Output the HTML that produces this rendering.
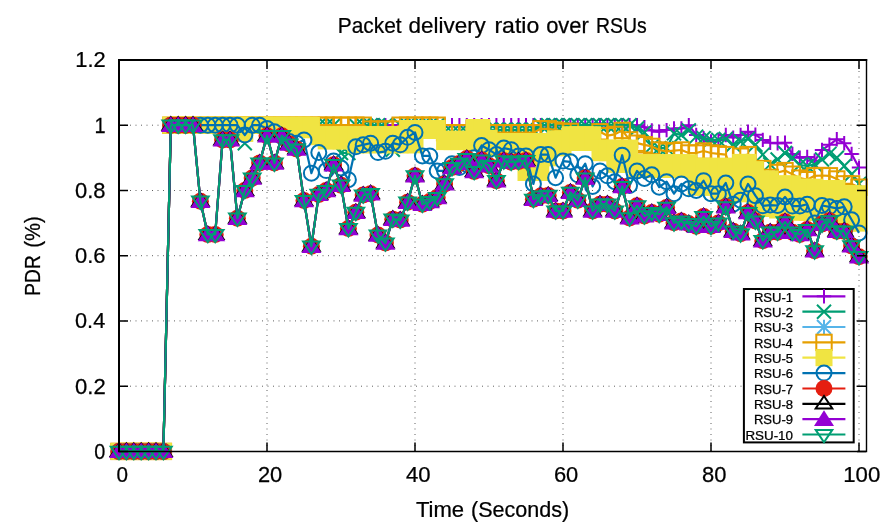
<!DOCTYPE html>
<html><head><meta charset="utf-8"><style>
html,body{margin:0;padding:0;background:#fff;}
svg{display:block;will-change:transform;}
text{font-family:"Liberation Sans",sans-serif;fill:#000;stroke:#000;stroke-width:0.25px;}
</style></head><body>
<svg width="892" height="530" viewBox="0 0 892 530">
<rect width="892" height="530" fill="#fff"/>
<path d="M267 60V451.4M415 60V451.4M563 60V451.4M711 60V451.4M859 60V451.4M119 386.2H866M119 320.9H866M119 255.7H866M119 190.5H866M119 125.2H866" stroke="#606060" stroke-width="1" stroke-dasharray="1 4.5" fill="none"/>
<polyline points="119,451.4 126.4,451.4 133.8,451.4 141.2,451.4 148.6,451.4 156,451.4 163.4,451.4 170.8,125.2 178.2,125.2 185.6,125.2 193,125.2 200.4,125.2 207.8,125.2 215.2,125.2 222.6,125.2 230,125.2 237.4,125.2 244.8,125.2 252.2,125.2 259.6,125.2 267,125.2 274.4,125.2 281.8,125.2 289.2,125.2 296.6,125.2 304,125.2 311.4,125.2 318.8,125.2 326.2,125.2 333.6,125.2 341,125.2 348.4,125.2 355.8,125.2 363.2,125.2 370.6,125.2 378,125.2 385.4,125.2 392.8,125.2 400.2,125.2 407.6,125.2 415,125.2 422.4,125.2 429.8,125.2 437.2,125.2 444.6,125.2 452,125.2 459.4,125.2 466.8,125.2 474.2,125.2 481.6,125.2 489,125.2 496.4,125.2 503.8,125.2 511.2,125.2 518.6,125.2 526,125.2 533.4,125.2 540.8,125.2 548.2,125.2 555.6,125.2 563,125.2 570.4,125.2 577.8,125.2 585.2,125.2 592.6,125.2 600,125.2 607.4,125.2 614.8,125.2 622.2,125.2 629.6,125.2 637,125.2 644.4,127.2 651.8,130.4 659.2,131.8 666.6,130.1 674,128.5 681.4,128.5 688.8,125.2 696.2,135 703.6,138.3 711,141.5 718.4,139.9 725.8,135 733.2,137.6 740.6,135 748,131.8 755.4,134.7 762.8,139.9 770.2,142.8 777.6,143.2 785,142.8 792.4,153.9 799.8,157.8 807.2,156.9 814.6,160.8 822,150 829.4,144.8 836.8,139.3 844.2,143.2 851.6,153.9 859,167.6" fill="none" stroke="#9400d3" stroke-width="2.2" stroke-linejoin="round"/>
<path d="M111.8 451.4h14.4M119 444.2v14.4" stroke="#9400d3" stroke-width="2" fill="none"/>
<path d="M119.2 451.4h14.4M126.4 444.2v14.4" stroke="#9400d3" stroke-width="2" fill="none"/>
<path d="M126.6 451.4h14.4M133.8 444.2v14.4" stroke="#9400d3" stroke-width="2" fill="none"/>
<path d="M134 451.4h14.4M141.2 444.2v14.4" stroke="#9400d3" stroke-width="2" fill="none"/>
<path d="M141.4 451.4h14.4M148.6 444.2v14.4" stroke="#9400d3" stroke-width="2" fill="none"/>
<path d="M148.8 451.4h14.4M156 444.2v14.4" stroke="#9400d3" stroke-width="2" fill="none"/>
<path d="M156.2 451.4h14.4M163.4 444.2v14.4" stroke="#9400d3" stroke-width="2" fill="none"/>
<path d="M163.6 125.2h14.4M170.8 118v14.4" stroke="#9400d3" stroke-width="2" fill="none"/>
<path d="M171 125.2h14.4M178.2 118v14.4" stroke="#9400d3" stroke-width="2" fill="none"/>
<path d="M178.4 125.2h14.4M185.6 118v14.4" stroke="#9400d3" stroke-width="2" fill="none"/>
<path d="M185.8 125.2h14.4M193 118v14.4" stroke="#9400d3" stroke-width="2" fill="none"/>
<path d="M193.2 125.2h14.4M200.4 118v14.4" stroke="#9400d3" stroke-width="2" fill="none"/>
<path d="M200.6 125.2h14.4M207.8 118v14.4" stroke="#9400d3" stroke-width="2" fill="none"/>
<path d="M208 125.2h14.4M215.2 118v14.4" stroke="#9400d3" stroke-width="2" fill="none"/>
<path d="M215.4 125.2h14.4M222.6 118v14.4" stroke="#9400d3" stroke-width="2" fill="none"/>
<path d="M222.8 125.2h14.4M230 118v14.4" stroke="#9400d3" stroke-width="2" fill="none"/>
<path d="M230.2 125.2h14.4M237.4 118v14.4" stroke="#9400d3" stroke-width="2" fill="none"/>
<path d="M237.6 125.2h14.4M244.8 118v14.4" stroke="#9400d3" stroke-width="2" fill="none"/>
<path d="M245 125.2h14.4M252.2 118v14.4" stroke="#9400d3" stroke-width="2" fill="none"/>
<path d="M252.4 125.2h14.4M259.6 118v14.4" stroke="#9400d3" stroke-width="2" fill="none"/>
<path d="M259.8 125.2h14.4M267 118v14.4" stroke="#9400d3" stroke-width="2" fill="none"/>
<path d="M267.2 125.2h14.4M274.4 118v14.4" stroke="#9400d3" stroke-width="2" fill="none"/>
<path d="M274.6 125.2h14.4M281.8 118v14.4" stroke="#9400d3" stroke-width="2" fill="none"/>
<path d="M282 125.2h14.4M289.2 118v14.4" stroke="#9400d3" stroke-width="2" fill="none"/>
<path d="M289.4 125.2h14.4M296.6 118v14.4" stroke="#9400d3" stroke-width="2" fill="none"/>
<path d="M296.8 125.2h14.4M304 118v14.4" stroke="#9400d3" stroke-width="2" fill="none"/>
<path d="M304.2 125.2h14.4M311.4 118v14.4" stroke="#9400d3" stroke-width="2" fill="none"/>
<path d="M311.6 125.2h14.4M318.8 118v14.4" stroke="#9400d3" stroke-width="2" fill="none"/>
<path d="M319 125.2h14.4M326.2 118v14.4" stroke="#9400d3" stroke-width="2" fill="none"/>
<path d="M326.4 125.2h14.4M333.6 118v14.4" stroke="#9400d3" stroke-width="2" fill="none"/>
<path d="M333.8 125.2h14.4M341 118v14.4" stroke="#9400d3" stroke-width="2" fill="none"/>
<path d="M341.2 125.2h14.4M348.4 118v14.4" stroke="#9400d3" stroke-width="2" fill="none"/>
<path d="M348.6 125.2h14.4M355.8 118v14.4" stroke="#9400d3" stroke-width="2" fill="none"/>
<path d="M356 125.2h14.4M363.2 118v14.4" stroke="#9400d3" stroke-width="2" fill="none"/>
<path d="M363.4 125.2h14.4M370.6 118v14.4" stroke="#9400d3" stroke-width="2" fill="none"/>
<path d="M370.8 125.2h14.4M378 118v14.4" stroke="#9400d3" stroke-width="2" fill="none"/>
<path d="M378.2 125.2h14.4M385.4 118v14.4" stroke="#9400d3" stroke-width="2" fill="none"/>
<path d="M385.6 125.2h14.4M392.8 118v14.4" stroke="#9400d3" stroke-width="2" fill="none"/>
<path d="M393 125.2h14.4M400.2 118v14.4" stroke="#9400d3" stroke-width="2" fill="none"/>
<path d="M400.4 125.2h14.4M407.6 118v14.4" stroke="#9400d3" stroke-width="2" fill="none"/>
<path d="M407.8 125.2h14.4M415 118v14.4" stroke="#9400d3" stroke-width="2" fill="none"/>
<path d="M415.2 125.2h14.4M422.4 118v14.4" stroke="#9400d3" stroke-width="2" fill="none"/>
<path d="M422.6 125.2h14.4M429.8 118v14.4" stroke="#9400d3" stroke-width="2" fill="none"/>
<path d="M430 125.2h14.4M437.2 118v14.4" stroke="#9400d3" stroke-width="2" fill="none"/>
<path d="M437.4 125.2h14.4M444.6 118v14.4" stroke="#9400d3" stroke-width="2" fill="none"/>
<path d="M444.8 125.2h14.4M452 118v14.4" stroke="#9400d3" stroke-width="2" fill="none"/>
<path d="M452.2 125.2h14.4M459.4 118v14.4" stroke="#9400d3" stroke-width="2" fill="none"/>
<path d="M459.6 125.2h14.4M466.8 118v14.4" stroke="#9400d3" stroke-width="2" fill="none"/>
<path d="M467 125.2h14.4M474.2 118v14.4" stroke="#9400d3" stroke-width="2" fill="none"/>
<path d="M474.4 125.2h14.4M481.6 118v14.4" stroke="#9400d3" stroke-width="2" fill="none"/>
<path d="M481.8 125.2h14.4M489 118v14.4" stroke="#9400d3" stroke-width="2" fill="none"/>
<path d="M489.2 125.2h14.4M496.4 118v14.4" stroke="#9400d3" stroke-width="2" fill="none"/>
<path d="M496.6 125.2h14.4M503.8 118v14.4" stroke="#9400d3" stroke-width="2" fill="none"/>
<path d="M504 125.2h14.4M511.2 118v14.4" stroke="#9400d3" stroke-width="2" fill="none"/>
<path d="M511.4 125.2h14.4M518.6 118v14.4" stroke="#9400d3" stroke-width="2" fill="none"/>
<path d="M518.8 125.2h14.4M526 118v14.4" stroke="#9400d3" stroke-width="2" fill="none"/>
<path d="M526.2 125.2h14.4M533.4 118v14.4" stroke="#9400d3" stroke-width="2" fill="none"/>
<path d="M533.6 125.2h14.4M540.8 118v14.4" stroke="#9400d3" stroke-width="2" fill="none"/>
<path d="M541 125.2h14.4M548.2 118v14.4" stroke="#9400d3" stroke-width="2" fill="none"/>
<path d="M548.4 125.2h14.4M555.6 118v14.4" stroke="#9400d3" stroke-width="2" fill="none"/>
<path d="M555.8 125.2h14.4M563 118v14.4" stroke="#9400d3" stroke-width="2" fill="none"/>
<path d="M563.2 125.2h14.4M570.4 118v14.4" stroke="#9400d3" stroke-width="2" fill="none"/>
<path d="M570.6 125.2h14.4M577.8 118v14.4" stroke="#9400d3" stroke-width="2" fill="none"/>
<path d="M578 125.2h14.4M585.2 118v14.4" stroke="#9400d3" stroke-width="2" fill="none"/>
<path d="M585.4 125.2h14.4M592.6 118v14.4" stroke="#9400d3" stroke-width="2" fill="none"/>
<path d="M592.8 125.2h14.4M600 118v14.4" stroke="#9400d3" stroke-width="2" fill="none"/>
<path d="M600.2 125.2h14.4M607.4 118v14.4" stroke="#9400d3" stroke-width="2" fill="none"/>
<path d="M607.6 125.2h14.4M614.8 118v14.4" stroke="#9400d3" stroke-width="2" fill="none"/>
<path d="M615 125.2h14.4M622.2 118v14.4" stroke="#9400d3" stroke-width="2" fill="none"/>
<path d="M622.4 125.2h14.4M629.6 118v14.4" stroke="#9400d3" stroke-width="2" fill="none"/>
<path d="M629.8 125.2h14.4M637 118v14.4" stroke="#9400d3" stroke-width="2" fill="none"/>
<path d="M637.2 127.2h14.4M644.4 120v14.4" stroke="#9400d3" stroke-width="2" fill="none"/>
<path d="M644.6 130.4h14.4M651.8 123.2v14.4" stroke="#9400d3" stroke-width="2" fill="none"/>
<path d="M652 131.8h14.4M659.2 124.6v14.4" stroke="#9400d3" stroke-width="2" fill="none"/>
<path d="M659.4 130.1h14.4M666.6 122.9v14.4" stroke="#9400d3" stroke-width="2" fill="none"/>
<path d="M666.8 128.5h14.4M674 121.3v14.4" stroke="#9400d3" stroke-width="2" fill="none"/>
<path d="M674.2 128.5h14.4M681.4 121.3v14.4" stroke="#9400d3" stroke-width="2" fill="none"/>
<path d="M681.6 125.2h14.4M688.8 118v14.4" stroke="#9400d3" stroke-width="2" fill="none"/>
<path d="M689 135h14.4M696.2 127.8v14.4" stroke="#9400d3" stroke-width="2" fill="none"/>
<path d="M696.4 138.3h14.4M703.6 131.1v14.4" stroke="#9400d3" stroke-width="2" fill="none"/>
<path d="M703.8 141.5h14.4M711 134.3v14.4" stroke="#9400d3" stroke-width="2" fill="none"/>
<path d="M711.2 139.9h14.4M718.4 132.7v14.4" stroke="#9400d3" stroke-width="2" fill="none"/>
<path d="M718.6 135h14.4M725.8 127.8v14.4" stroke="#9400d3" stroke-width="2" fill="none"/>
<path d="M726 137.6h14.4M733.2 130.4v14.4" stroke="#9400d3" stroke-width="2" fill="none"/>
<path d="M733.4 135h14.4M740.6 127.8v14.4" stroke="#9400d3" stroke-width="2" fill="none"/>
<path d="M740.8 131.8h14.4M748 124.6v14.4" stroke="#9400d3" stroke-width="2" fill="none"/>
<path d="M748.2 134.7h14.4M755.4 127.5v14.4" stroke="#9400d3" stroke-width="2" fill="none"/>
<path d="M755.6 139.9h14.4M762.8 132.7v14.4" stroke="#9400d3" stroke-width="2" fill="none"/>
<path d="M763 142.8h14.4M770.2 135.6v14.4" stroke="#9400d3" stroke-width="2" fill="none"/>
<path d="M770.4 143.2h14.4M777.6 136v14.4" stroke="#9400d3" stroke-width="2" fill="none"/>
<path d="M777.8 142.8h14.4M785 135.6v14.4" stroke="#9400d3" stroke-width="2" fill="none"/>
<path d="M785.2 153.9h14.4M792.4 146.7v14.4" stroke="#9400d3" stroke-width="2" fill="none"/>
<path d="M792.6 157.8h14.4M799.8 150.6v14.4" stroke="#9400d3" stroke-width="2" fill="none"/>
<path d="M800 156.9h14.4M807.2 149.7v14.4" stroke="#9400d3" stroke-width="2" fill="none"/>
<path d="M807.4 160.8h14.4M814.6 153.6v14.4" stroke="#9400d3" stroke-width="2" fill="none"/>
<path d="M814.8 150h14.4M822 142.8v14.4" stroke="#9400d3" stroke-width="2" fill="none"/>
<path d="M822.2 144.8h14.4M829.4 137.6v14.4" stroke="#9400d3" stroke-width="2" fill="none"/>
<path d="M829.6 139.3h14.4M836.8 132.1v14.4" stroke="#9400d3" stroke-width="2" fill="none"/>
<path d="M837 143.2h14.4M844.2 136v14.4" stroke="#9400d3" stroke-width="2" fill="none"/>
<path d="M844.4 153.9h14.4M851.6 146.7v14.4" stroke="#9400d3" stroke-width="2" fill="none"/>
<path d="M851.8 167.6h14.4M859 160.4v14.4" stroke="#9400d3" stroke-width="2" fill="none"/>
<polyline points="119,451.4 126.4,451.4 133.8,451.4 141.2,451.4 148.6,451.4 156,451.4 163.4,451.4 170.8,125.2 178.2,125.2 185.6,125.2 193,125.2 200.4,125.2 207.8,125.2 215.2,125.2 222.6,125.2 230,125.2 237.4,125.2 244.8,143.2 252.2,125.2 259.6,125.2 267,125.2 274.4,125.2 281.8,125.2 289.2,125.2 296.6,125.2 304,125.2 311.4,125.2 318.8,125.2 326.2,125.2 333.6,125.2 341,153 348.4,153 355.8,125.2 363.2,125.2 370.6,125.2 378,125.2 385.4,125.2 392.8,149.7 400.2,125.2 407.6,125.2 415,125.2 422.4,125.2 429.8,125.2 437.2,125.2 444.6,132.4 452,132.4 459.4,132.4 466.8,132.4 474.2,129.8 481.6,129.8 489,129.8 496.4,129.8 503.8,129.8 511.2,129.8 518.6,129.8 526,129.8 533.4,129.8 540.8,125.2 548.2,125.2 555.6,125.2 563,125.2 570.4,125.2 577.8,125.2 585.2,125.2 592.6,125.2 600,125.2 607.4,125.2 614.8,125.2 622.2,125.2 629.6,125.2 637,128.5 644.4,132.4 651.8,146.4 659.2,148.1 666.6,148.1 674,133.4 681.4,135 688.8,130.4 696.2,136.6 703.6,138.3 711,139.9 718.4,139.9 725.8,138.9 733.2,144.8 740.6,141.5 748,138.9 755.4,144.8 762.8,154.6 770.2,164.4 777.6,159.5 785,153 792.4,157.8 799.8,165 807.2,166 814.6,164.4 822,159.5 829.4,153.9 836.8,157.8 844.2,166 851.6,174.2 859,183.9" fill="none" stroke="#009e73" stroke-width="2.2" stroke-linejoin="round"/>
<path d="M112 444.4l14 14M126 444.4l-14 14" stroke="#009e73" stroke-width="2" fill="none"/>
<path d="M119.4 444.4l14 14M133.4 444.4l-14 14" stroke="#009e73" stroke-width="2" fill="none"/>
<path d="M126.8 444.4l14 14M140.8 444.4l-14 14" stroke="#009e73" stroke-width="2" fill="none"/>
<path d="M134.2 444.4l14 14M148.2 444.4l-14 14" stroke="#009e73" stroke-width="2" fill="none"/>
<path d="M141.6 444.4l14 14M155.6 444.4l-14 14" stroke="#009e73" stroke-width="2" fill="none"/>
<path d="M149 444.4l14 14M163 444.4l-14 14" stroke="#009e73" stroke-width="2" fill="none"/>
<path d="M156.4 444.4l14 14M170.4 444.4l-14 14" stroke="#009e73" stroke-width="2" fill="none"/>
<path d="M163.8 118.2l14 14M177.8 118.2l-14 14" stroke="#009e73" stroke-width="2" fill="none"/>
<path d="M171.2 118.2l14 14M185.2 118.2l-14 14" stroke="#009e73" stroke-width="2" fill="none"/>
<path d="M178.6 118.2l14 14M192.6 118.2l-14 14" stroke="#009e73" stroke-width="2" fill="none"/>
<path d="M186 118.2l14 14M200 118.2l-14 14" stroke="#009e73" stroke-width="2" fill="none"/>
<path d="M193.4 118.2l14 14M207.4 118.2l-14 14" stroke="#009e73" stroke-width="2" fill="none"/>
<path d="M200.8 118.2l14 14M214.8 118.2l-14 14" stroke="#009e73" stroke-width="2" fill="none"/>
<path d="M208.2 118.2l14 14M222.2 118.2l-14 14" stroke="#009e73" stroke-width="2" fill="none"/>
<path d="M215.6 118.2l14 14M229.6 118.2l-14 14" stroke="#009e73" stroke-width="2" fill="none"/>
<path d="M223 118.2l14 14M237 118.2l-14 14" stroke="#009e73" stroke-width="2" fill="none"/>
<path d="M230.4 118.2l14 14M244.4 118.2l-14 14" stroke="#009e73" stroke-width="2" fill="none"/>
<path d="M237.8 136.2l14 14M251.8 136.2l-14 14" stroke="#009e73" stroke-width="2" fill="none"/>
<path d="M245.2 118.2l14 14M259.2 118.2l-14 14" stroke="#009e73" stroke-width="2" fill="none"/>
<path d="M252.6 118.2l14 14M266.6 118.2l-14 14" stroke="#009e73" stroke-width="2" fill="none"/>
<path d="M260 118.2l14 14M274 118.2l-14 14" stroke="#009e73" stroke-width="2" fill="none"/>
<path d="M267.4 118.2l14 14M281.4 118.2l-14 14" stroke="#009e73" stroke-width="2" fill="none"/>
<path d="M274.8 118.2l14 14M288.8 118.2l-14 14" stroke="#009e73" stroke-width="2" fill="none"/>
<path d="M282.2 118.2l14 14M296.2 118.2l-14 14" stroke="#009e73" stroke-width="2" fill="none"/>
<path d="M289.6 118.2l14 14M303.6 118.2l-14 14" stroke="#009e73" stroke-width="2" fill="none"/>
<path d="M297 118.2l14 14M311 118.2l-14 14" stroke="#009e73" stroke-width="2" fill="none"/>
<path d="M304.4 118.2l14 14M318.4 118.2l-14 14" stroke="#009e73" stroke-width="2" fill="none"/>
<path d="M311.8 118.2l14 14M325.8 118.2l-14 14" stroke="#009e73" stroke-width="2" fill="none"/>
<path d="M319.2 118.2l14 14M333.2 118.2l-14 14" stroke="#009e73" stroke-width="2" fill="none"/>
<path d="M326.6 118.2l14 14M340.6 118.2l-14 14" stroke="#009e73" stroke-width="2" fill="none"/>
<path d="M334 146l14 14M348 146l-14 14" stroke="#009e73" stroke-width="2" fill="none"/>
<path d="M341.4 146l14 14M355.4 146l-14 14" stroke="#009e73" stroke-width="2" fill="none"/>
<path d="M348.8 118.2l14 14M362.8 118.2l-14 14" stroke="#009e73" stroke-width="2" fill="none"/>
<path d="M356.2 118.2l14 14M370.2 118.2l-14 14" stroke="#009e73" stroke-width="2" fill="none"/>
<path d="M363.6 118.2l14 14M377.6 118.2l-14 14" stroke="#009e73" stroke-width="2" fill="none"/>
<path d="M371 118.2l14 14M385 118.2l-14 14" stroke="#009e73" stroke-width="2" fill="none"/>
<path d="M378.4 118.2l14 14M392.4 118.2l-14 14" stroke="#009e73" stroke-width="2" fill="none"/>
<path d="M385.8 142.7l14 14M399.8 142.7l-14 14" stroke="#009e73" stroke-width="2" fill="none"/>
<path d="M393.2 118.2l14 14M407.2 118.2l-14 14" stroke="#009e73" stroke-width="2" fill="none"/>
<path d="M400.6 118.2l14 14M414.6 118.2l-14 14" stroke="#009e73" stroke-width="2" fill="none"/>
<path d="M408 118.2l14 14M422 118.2l-14 14" stroke="#009e73" stroke-width="2" fill="none"/>
<path d="M415.4 118.2l14 14M429.4 118.2l-14 14" stroke="#009e73" stroke-width="2" fill="none"/>
<path d="M422.8 118.2l14 14M436.8 118.2l-14 14" stroke="#009e73" stroke-width="2" fill="none"/>
<path d="M430.2 118.2l14 14M444.2 118.2l-14 14" stroke="#009e73" stroke-width="2" fill="none"/>
<path d="M437.6 125.4l14 14M451.6 125.4l-14 14" stroke="#009e73" stroke-width="2" fill="none"/>
<path d="M445 125.4l14 14M459 125.4l-14 14" stroke="#009e73" stroke-width="2" fill="none"/>
<path d="M452.4 125.4l14 14M466.4 125.4l-14 14" stroke="#009e73" stroke-width="2" fill="none"/>
<path d="M459.8 125.4l14 14M473.8 125.4l-14 14" stroke="#009e73" stroke-width="2" fill="none"/>
<path d="M467.2 122.8l14 14M481.2 122.8l-14 14" stroke="#009e73" stroke-width="2" fill="none"/>
<path d="M474.6 122.8l14 14M488.6 122.8l-14 14" stroke="#009e73" stroke-width="2" fill="none"/>
<path d="M482 122.8l14 14M496 122.8l-14 14" stroke="#009e73" stroke-width="2" fill="none"/>
<path d="M489.4 122.8l14 14M503.4 122.8l-14 14" stroke="#009e73" stroke-width="2" fill="none"/>
<path d="M496.8 122.8l14 14M510.8 122.8l-14 14" stroke="#009e73" stroke-width="2" fill="none"/>
<path d="M504.2 122.8l14 14M518.2 122.8l-14 14" stroke="#009e73" stroke-width="2" fill="none"/>
<path d="M511.6 122.8l14 14M525.6 122.8l-14 14" stroke="#009e73" stroke-width="2" fill="none"/>
<path d="M519 122.8l14 14M533 122.8l-14 14" stroke="#009e73" stroke-width="2" fill="none"/>
<path d="M526.4 122.8l14 14M540.4 122.8l-14 14" stroke="#009e73" stroke-width="2" fill="none"/>
<path d="M533.8 118.2l14 14M547.8 118.2l-14 14" stroke="#009e73" stroke-width="2" fill="none"/>
<path d="M541.2 118.2l14 14M555.2 118.2l-14 14" stroke="#009e73" stroke-width="2" fill="none"/>
<path d="M548.6 118.2l14 14M562.6 118.2l-14 14" stroke="#009e73" stroke-width="2" fill="none"/>
<path d="M556 118.2l14 14M570 118.2l-14 14" stroke="#009e73" stroke-width="2" fill="none"/>
<path d="M563.4 118.2l14 14M577.4 118.2l-14 14" stroke="#009e73" stroke-width="2" fill="none"/>
<path d="M570.8 118.2l14 14M584.8 118.2l-14 14" stroke="#009e73" stroke-width="2" fill="none"/>
<path d="M578.2 118.2l14 14M592.2 118.2l-14 14" stroke="#009e73" stroke-width="2" fill="none"/>
<path d="M585.6 118.2l14 14M599.6 118.2l-14 14" stroke="#009e73" stroke-width="2" fill="none"/>
<path d="M593 118.2l14 14M607 118.2l-14 14" stroke="#009e73" stroke-width="2" fill="none"/>
<path d="M600.4 118.2l14 14M614.4 118.2l-14 14" stroke="#009e73" stroke-width="2" fill="none"/>
<path d="M607.8 118.2l14 14M621.8 118.2l-14 14" stroke="#009e73" stroke-width="2" fill="none"/>
<path d="M615.2 118.2l14 14M629.2 118.2l-14 14" stroke="#009e73" stroke-width="2" fill="none"/>
<path d="M622.6 118.2l14 14M636.6 118.2l-14 14" stroke="#009e73" stroke-width="2" fill="none"/>
<path d="M630 121.5l14 14M644 121.5l-14 14" stroke="#009e73" stroke-width="2" fill="none"/>
<path d="M637.4 125.4l14 14M651.4 125.4l-14 14" stroke="#009e73" stroke-width="2" fill="none"/>
<path d="M644.8 139.4l14 14M658.8 139.4l-14 14" stroke="#009e73" stroke-width="2" fill="none"/>
<path d="M652.2 141.1l14 14M666.2 141.1l-14 14" stroke="#009e73" stroke-width="2" fill="none"/>
<path d="M659.6 141.1l14 14M673.6 141.1l-14 14" stroke="#009e73" stroke-width="2" fill="none"/>
<path d="M667 126.4l14 14M681 126.4l-14 14" stroke="#009e73" stroke-width="2" fill="none"/>
<path d="M674.4 128l14 14M688.4 128l-14 14" stroke="#009e73" stroke-width="2" fill="none"/>
<path d="M681.8 123.4l14 14M695.8 123.4l-14 14" stroke="#009e73" stroke-width="2" fill="none"/>
<path d="M689.2 129.6l14 14M703.2 129.6l-14 14" stroke="#009e73" stroke-width="2" fill="none"/>
<path d="M696.6 131.3l14 14M710.6 131.3l-14 14" stroke="#009e73" stroke-width="2" fill="none"/>
<path d="M704 132.9l14 14M718 132.9l-14 14" stroke="#009e73" stroke-width="2" fill="none"/>
<path d="M711.4 132.9l14 14M725.4 132.9l-14 14" stroke="#009e73" stroke-width="2" fill="none"/>
<path d="M718.8 131.9l14 14M732.8 131.9l-14 14" stroke="#009e73" stroke-width="2" fill="none"/>
<path d="M726.2 137.8l14 14M740.2 137.8l-14 14" stroke="#009e73" stroke-width="2" fill="none"/>
<path d="M733.6 134.5l14 14M747.6 134.5l-14 14" stroke="#009e73" stroke-width="2" fill="none"/>
<path d="M741 131.9l14 14M755 131.9l-14 14" stroke="#009e73" stroke-width="2" fill="none"/>
<path d="M748.4 137.8l14 14M762.4 137.8l-14 14" stroke="#009e73" stroke-width="2" fill="none"/>
<path d="M755.8 147.6l14 14M769.8 147.6l-14 14" stroke="#009e73" stroke-width="2" fill="none"/>
<path d="M763.2 157.4l14 14M777.2 157.4l-14 14" stroke="#009e73" stroke-width="2" fill="none"/>
<path d="M770.6 152.5l14 14M784.6 152.5l-14 14" stroke="#009e73" stroke-width="2" fill="none"/>
<path d="M778 146l14 14M792 146l-14 14" stroke="#009e73" stroke-width="2" fill="none"/>
<path d="M785.4 150.8l14 14M799.4 150.8l-14 14" stroke="#009e73" stroke-width="2" fill="none"/>
<path d="M792.8 158l14 14M806.8 158l-14 14" stroke="#009e73" stroke-width="2" fill="none"/>
<path d="M800.2 159l14 14M814.2 159l-14 14" stroke="#009e73" stroke-width="2" fill="none"/>
<path d="M807.6 157.4l14 14M821.6 157.4l-14 14" stroke="#009e73" stroke-width="2" fill="none"/>
<path d="M815 152.5l14 14M829 152.5l-14 14" stroke="#009e73" stroke-width="2" fill="none"/>
<path d="M822.4 146.9l14 14M836.4 146.9l-14 14" stroke="#009e73" stroke-width="2" fill="none"/>
<path d="M829.8 150.8l14 14M843.8 150.8l-14 14" stroke="#009e73" stroke-width="2" fill="none"/>
<path d="M837.2 159l14 14M851.2 159l-14 14" stroke="#009e73" stroke-width="2" fill="none"/>
<path d="M844.6 167.2l14 14M858.6 167.2l-14 14" stroke="#009e73" stroke-width="2" fill="none"/>
<path d="M852 176.9l14 14M866 176.9l-14 14" stroke="#009e73" stroke-width="2" fill="none"/>
<polyline points="119,451.4 126.4,451.4 133.8,451.4 141.2,451.4 148.6,451.4 156,451.4 163.4,451.4 170.8,125.2 178.2,125.2 185.6,125.2 193,125.2 200.4,125.2 207.8,125.2 215.2,125.2 222.6,125.2 230,125.2 237.4,125.2 244.8,129.3 252.2,125.2 259.6,125.2 267,125.2 274.4,125.2 281.8,125.2 289.2,125.2 296.6,126.9 304,126.9 311.4,127.5 318.8,135.7 326.2,137.8 333.6,137.8 341,137.8 348.4,137.8 355.8,139.7 363.2,139.7 370.6,139.7 378,139.7 385.4,139.7 392.8,139.7 400.2,139.7 407.6,136.6 415,136.6 422.4,129.5 429.8,129.5 437.2,129.5 444.6,140.4 452,140.4 459.4,140.4 466.8,140.4 474.2,135 481.6,135 489,142.4 496.4,144.6 503.8,144.6 511.2,144.6 518.6,144.6 526,157 533.4,157 540.8,157 548.2,149.7 555.6,143.3 563,143.3 570.4,138.6 577.8,138.6 585.2,138.6 592.6,138.6 600,150.3 607.4,150.3 614.8,156.2 622.2,156.2 629.6,156.2 637,166.2 644.4,166.2 651.8,166.2 659.2,166.2 666.6,166.2 674,166.2 681.4,166.2 688.8,166.2 696.2,176.8 703.6,176.8 711,176.8 718.4,179.2 725.8,179.2 733.2,179.2 740.6,178.1 748,178.1 755.4,184.9 762.8,193.7 770.2,193.7 777.6,197 785,197 792.4,197 799.8,199.8 807.2,199.8 814.6,199.8 822,202.5 829.4,202.5 836.8,202.5 844.2,208.4 851.6,208.4 859,208.4" fill="none" stroke="#56b4e9" stroke-width="2.2" stroke-linejoin="round"/>
<path d="M111.8 451.4h14.4M119 444.2v14.4M112 444.4l14 14M126 444.4l-14 14" stroke="#56b4e9" stroke-width="2" fill="none"/>
<path d="M119.2 451.4h14.4M126.4 444.2v14.4M119.4 444.4l14 14M133.4 444.4l-14 14" stroke="#56b4e9" stroke-width="2" fill="none"/>
<path d="M126.6 451.4h14.4M133.8 444.2v14.4M126.8 444.4l14 14M140.8 444.4l-14 14" stroke="#56b4e9" stroke-width="2" fill="none"/>
<path d="M134 451.4h14.4M141.2 444.2v14.4M134.2 444.4l14 14M148.2 444.4l-14 14" stroke="#56b4e9" stroke-width="2" fill="none"/>
<path d="M141.4 451.4h14.4M148.6 444.2v14.4M141.6 444.4l14 14M155.6 444.4l-14 14" stroke="#56b4e9" stroke-width="2" fill="none"/>
<path d="M148.8 451.4h14.4M156 444.2v14.4M149 444.4l14 14M163 444.4l-14 14" stroke="#56b4e9" stroke-width="2" fill="none"/>
<path d="M156.2 451.4h14.4M163.4 444.2v14.4M156.4 444.4l14 14M170.4 444.4l-14 14" stroke="#56b4e9" stroke-width="2" fill="none"/>
<path d="M163.6 125.2h14.4M170.8 118v14.4M163.8 118.2l14 14M177.8 118.2l-14 14" stroke="#56b4e9" stroke-width="2" fill="none"/>
<path d="M171 125.2h14.4M178.2 118v14.4M171.2 118.2l14 14M185.2 118.2l-14 14" stroke="#56b4e9" stroke-width="2" fill="none"/>
<path d="M178.4 125.2h14.4M185.6 118v14.4M178.6 118.2l14 14M192.6 118.2l-14 14" stroke="#56b4e9" stroke-width="2" fill="none"/>
<path d="M185.8 125.2h14.4M193 118v14.4M186 118.2l14 14M200 118.2l-14 14" stroke="#56b4e9" stroke-width="2" fill="none"/>
<path d="M193.2 125.2h14.4M200.4 118v14.4M193.4 118.2l14 14M207.4 118.2l-14 14" stroke="#56b4e9" stroke-width="2" fill="none"/>
<path d="M200.6 125.2h14.4M207.8 118v14.4M200.8 118.2l14 14M214.8 118.2l-14 14" stroke="#56b4e9" stroke-width="2" fill="none"/>
<path d="M208 125.2h14.4M215.2 118v14.4M208.2 118.2l14 14M222.2 118.2l-14 14" stroke="#56b4e9" stroke-width="2" fill="none"/>
<path d="M215.4 125.2h14.4M222.6 118v14.4M215.6 118.2l14 14M229.6 118.2l-14 14" stroke="#56b4e9" stroke-width="2" fill="none"/>
<path d="M222.8 125.2h14.4M230 118v14.4M223 118.2l14 14M237 118.2l-14 14" stroke="#56b4e9" stroke-width="2" fill="none"/>
<path d="M230.2 125.2h14.4M237.4 118v14.4M230.4 118.2l14 14M244.4 118.2l-14 14" stroke="#56b4e9" stroke-width="2" fill="none"/>
<path d="M237.6 129.3h14.4M244.8 122.1v14.4M237.8 122.3l14 14M251.8 122.3l-14 14" stroke="#56b4e9" stroke-width="2" fill="none"/>
<path d="M245 125.2h14.4M252.2 118v14.4M245.2 118.2l14 14M259.2 118.2l-14 14" stroke="#56b4e9" stroke-width="2" fill="none"/>
<path d="M252.4 125.2h14.4M259.6 118v14.4M252.6 118.2l14 14M266.6 118.2l-14 14" stroke="#56b4e9" stroke-width="2" fill="none"/>
<path d="M259.8 125.2h14.4M267 118v14.4M260 118.2l14 14M274 118.2l-14 14" stroke="#56b4e9" stroke-width="2" fill="none"/>
<path d="M267.2 125.2h14.4M274.4 118v14.4M267.4 118.2l14 14M281.4 118.2l-14 14" stroke="#56b4e9" stroke-width="2" fill="none"/>
<path d="M274.6 125.2h14.4M281.8 118v14.4M274.8 118.2l14 14M288.8 118.2l-14 14" stroke="#56b4e9" stroke-width="2" fill="none"/>
<path d="M282 125.2h14.4M289.2 118v14.4M282.2 118.2l14 14M296.2 118.2l-14 14" stroke="#56b4e9" stroke-width="2" fill="none"/>
<path d="M289.4 126.9h14.4M296.6 119.7v14.4M289.6 119.9l14 14M303.6 119.9l-14 14" stroke="#56b4e9" stroke-width="2" fill="none"/>
<path d="M296.8 126.9h14.4M304 119.7v14.4M297 119.9l14 14M311 119.9l-14 14" stroke="#56b4e9" stroke-width="2" fill="none"/>
<path d="M304.2 127.5h14.4M311.4 120.3v14.4M304.4 120.5l14 14M318.4 120.5l-14 14" stroke="#56b4e9" stroke-width="2" fill="none"/>
<path d="M311.6 135.7h14.4M318.8 128.5v14.4M311.8 128.7l14 14M325.8 128.7l-14 14" stroke="#56b4e9" stroke-width="2" fill="none"/>
<path d="M319 137.8h14.4M326.2 130.6v14.4M319.2 130.8l14 14M333.2 130.8l-14 14" stroke="#56b4e9" stroke-width="2" fill="none"/>
<path d="M326.4 137.8h14.4M333.6 130.6v14.4M326.6 130.8l14 14M340.6 130.8l-14 14" stroke="#56b4e9" stroke-width="2" fill="none"/>
<path d="M333.8 137.8h14.4M341 130.6v14.4M334 130.8l14 14M348 130.8l-14 14" stroke="#56b4e9" stroke-width="2" fill="none"/>
<path d="M341.2 137.8h14.4M348.4 130.6v14.4M341.4 130.8l14 14M355.4 130.8l-14 14" stroke="#56b4e9" stroke-width="2" fill="none"/>
<path d="M348.6 139.7h14.4M355.8 132.5v14.4M348.8 132.7l14 14M362.8 132.7l-14 14" stroke="#56b4e9" stroke-width="2" fill="none"/>
<path d="M356 139.7h14.4M363.2 132.5v14.4M356.2 132.7l14 14M370.2 132.7l-14 14" stroke="#56b4e9" stroke-width="2" fill="none"/>
<path d="M363.4 139.7h14.4M370.6 132.5v14.4M363.6 132.7l14 14M377.6 132.7l-14 14" stroke="#56b4e9" stroke-width="2" fill="none"/>
<path d="M370.8 139.7h14.4M378 132.5v14.4M371 132.7l14 14M385 132.7l-14 14" stroke="#56b4e9" stroke-width="2" fill="none"/>
<path d="M378.2 139.7h14.4M385.4 132.5v14.4M378.4 132.7l14 14M392.4 132.7l-14 14" stroke="#56b4e9" stroke-width="2" fill="none"/>
<path d="M385.6 139.7h14.4M392.8 132.5v14.4M385.8 132.7l14 14M399.8 132.7l-14 14" stroke="#56b4e9" stroke-width="2" fill="none"/>
<path d="M393 139.7h14.4M400.2 132.5v14.4M393.2 132.7l14 14M407.2 132.7l-14 14" stroke="#56b4e9" stroke-width="2" fill="none"/>
<path d="M400.4 136.6h14.4M407.6 129.4v14.4M400.6 129.6l14 14M414.6 129.6l-14 14" stroke="#56b4e9" stroke-width="2" fill="none"/>
<path d="M407.8 136.6h14.4M415 129.4v14.4M408 129.6l14 14M422 129.6l-14 14" stroke="#56b4e9" stroke-width="2" fill="none"/>
<path d="M415.2 129.5h14.4M422.4 122.3v14.4M415.4 122.5l14 14M429.4 122.5l-14 14" stroke="#56b4e9" stroke-width="2" fill="none"/>
<path d="M422.6 129.5h14.4M429.8 122.3v14.4M422.8 122.5l14 14M436.8 122.5l-14 14" stroke="#56b4e9" stroke-width="2" fill="none"/>
<path d="M430 129.5h14.4M437.2 122.3v14.4M430.2 122.5l14 14M444.2 122.5l-14 14" stroke="#56b4e9" stroke-width="2" fill="none"/>
<path d="M437.4 140.4h14.4M444.6 133.2v14.4M437.6 133.4l14 14M451.6 133.4l-14 14" stroke="#56b4e9" stroke-width="2" fill="none"/>
<path d="M444.8 140.4h14.4M452 133.2v14.4M445 133.4l14 14M459 133.4l-14 14" stroke="#56b4e9" stroke-width="2" fill="none"/>
<path d="M452.2 140.4h14.4M459.4 133.2v14.4M452.4 133.4l14 14M466.4 133.4l-14 14" stroke="#56b4e9" stroke-width="2" fill="none"/>
<path d="M459.6 140.4h14.4M466.8 133.2v14.4M459.8 133.4l14 14M473.8 133.4l-14 14" stroke="#56b4e9" stroke-width="2" fill="none"/>
<path d="M467 135h14.4M474.2 127.8v14.4M467.2 128l14 14M481.2 128l-14 14" stroke="#56b4e9" stroke-width="2" fill="none"/>
<path d="M474.4 135h14.4M481.6 127.8v14.4M474.6 128l14 14M488.6 128l-14 14" stroke="#56b4e9" stroke-width="2" fill="none"/>
<path d="M481.8 142.4h14.4M489 135.2v14.4M482 135.4l14 14M496 135.4l-14 14" stroke="#56b4e9" stroke-width="2" fill="none"/>
<path d="M489.2 144.6h14.4M496.4 137.4v14.4M489.4 137.6l14 14M503.4 137.6l-14 14" stroke="#56b4e9" stroke-width="2" fill="none"/>
<path d="M496.6 144.6h14.4M503.8 137.4v14.4M496.8 137.6l14 14M510.8 137.6l-14 14" stroke="#56b4e9" stroke-width="2" fill="none"/>
<path d="M504 144.6h14.4M511.2 137.4v14.4M504.2 137.6l14 14M518.2 137.6l-14 14" stroke="#56b4e9" stroke-width="2" fill="none"/>
<path d="M511.4 144.6h14.4M518.6 137.4v14.4M511.6 137.6l14 14M525.6 137.6l-14 14" stroke="#56b4e9" stroke-width="2" fill="none"/>
<path d="M518.8 157h14.4M526 149.8v14.4M519 150l14 14M533 150l-14 14" stroke="#56b4e9" stroke-width="2" fill="none"/>
<path d="M526.2 157h14.4M533.4 149.8v14.4M526.4 150l14 14M540.4 150l-14 14" stroke="#56b4e9" stroke-width="2" fill="none"/>
<path d="M533.6 157h14.4M540.8 149.8v14.4M533.8 150l14 14M547.8 150l-14 14" stroke="#56b4e9" stroke-width="2" fill="none"/>
<path d="M541 149.7h14.4M548.2 142.5v14.4M541.2 142.7l14 14M555.2 142.7l-14 14" stroke="#56b4e9" stroke-width="2" fill="none"/>
<path d="M548.4 143.3h14.4M555.6 136.1v14.4M548.6 136.3l14 14M562.6 136.3l-14 14" stroke="#56b4e9" stroke-width="2" fill="none"/>
<path d="M555.8 143.3h14.4M563 136.1v14.4M556 136.3l14 14M570 136.3l-14 14" stroke="#56b4e9" stroke-width="2" fill="none"/>
<path d="M563.2 138.6h14.4M570.4 131.4v14.4M563.4 131.6l14 14M577.4 131.6l-14 14" stroke="#56b4e9" stroke-width="2" fill="none"/>
<path d="M570.6 138.6h14.4M577.8 131.4v14.4M570.8 131.6l14 14M584.8 131.6l-14 14" stroke="#56b4e9" stroke-width="2" fill="none"/>
<path d="M578 138.6h14.4M585.2 131.4v14.4M578.2 131.6l14 14M592.2 131.6l-14 14" stroke="#56b4e9" stroke-width="2" fill="none"/>
<path d="M585.4 138.6h14.4M592.6 131.4v14.4M585.6 131.6l14 14M599.6 131.6l-14 14" stroke="#56b4e9" stroke-width="2" fill="none"/>
<path d="M592.8 150.3h14.4M600 143.1v14.4M593 143.3l14 14M607 143.3l-14 14" stroke="#56b4e9" stroke-width="2" fill="none"/>
<path d="M600.2 150.3h14.4M607.4 143.1v14.4M600.4 143.3l14 14M614.4 143.3l-14 14" stroke="#56b4e9" stroke-width="2" fill="none"/>
<path d="M607.6 156.2h14.4M614.8 149v14.4M607.8 149.2l14 14M621.8 149.2l-14 14" stroke="#56b4e9" stroke-width="2" fill="none"/>
<path d="M615 156.2h14.4M622.2 149v14.4M615.2 149.2l14 14M629.2 149.2l-14 14" stroke="#56b4e9" stroke-width="2" fill="none"/>
<path d="M622.4 156.2h14.4M629.6 149v14.4M622.6 149.2l14 14M636.6 149.2l-14 14" stroke="#56b4e9" stroke-width="2" fill="none"/>
<path d="M629.8 166.2h14.4M637 159v14.4M630 159.2l14 14M644 159.2l-14 14" stroke="#56b4e9" stroke-width="2" fill="none"/>
<path d="M637.2 166.2h14.4M644.4 159v14.4M637.4 159.2l14 14M651.4 159.2l-14 14" stroke="#56b4e9" stroke-width="2" fill="none"/>
<path d="M644.6 166.2h14.4M651.8 159v14.4M644.8 159.2l14 14M658.8 159.2l-14 14" stroke="#56b4e9" stroke-width="2" fill="none"/>
<path d="M652 166.2h14.4M659.2 159v14.4M652.2 159.2l14 14M666.2 159.2l-14 14" stroke="#56b4e9" stroke-width="2" fill="none"/>
<path d="M659.4 166.2h14.4M666.6 159v14.4M659.6 159.2l14 14M673.6 159.2l-14 14" stroke="#56b4e9" stroke-width="2" fill="none"/>
<path d="M666.8 166.2h14.4M674 159v14.4M667 159.2l14 14M681 159.2l-14 14" stroke="#56b4e9" stroke-width="2" fill="none"/>
<path d="M674.2 166.2h14.4M681.4 159v14.4M674.4 159.2l14 14M688.4 159.2l-14 14" stroke="#56b4e9" stroke-width="2" fill="none"/>
<path d="M681.6 166.2h14.4M688.8 159v14.4M681.8 159.2l14 14M695.8 159.2l-14 14" stroke="#56b4e9" stroke-width="2" fill="none"/>
<path d="M689 176.8h14.4M696.2 169.6v14.4M689.2 169.8l14 14M703.2 169.8l-14 14" stroke="#56b4e9" stroke-width="2" fill="none"/>
<path d="M696.4 176.8h14.4M703.6 169.6v14.4M696.6 169.8l14 14M710.6 169.8l-14 14" stroke="#56b4e9" stroke-width="2" fill="none"/>
<path d="M703.8 176.8h14.4M711 169.6v14.4M704 169.8l14 14M718 169.8l-14 14" stroke="#56b4e9" stroke-width="2" fill="none"/>
<path d="M711.2 179.2h14.4M718.4 172v14.4M711.4 172.2l14 14M725.4 172.2l-14 14" stroke="#56b4e9" stroke-width="2" fill="none"/>
<path d="M718.6 179.2h14.4M725.8 172v14.4M718.8 172.2l14 14M732.8 172.2l-14 14" stroke="#56b4e9" stroke-width="2" fill="none"/>
<path d="M726 179.2h14.4M733.2 172v14.4M726.2 172.2l14 14M740.2 172.2l-14 14" stroke="#56b4e9" stroke-width="2" fill="none"/>
<path d="M733.4 178.1h14.4M740.6 170.9v14.4M733.6 171.1l14 14M747.6 171.1l-14 14" stroke="#56b4e9" stroke-width="2" fill="none"/>
<path d="M740.8 178.1h14.4M748 170.9v14.4M741 171.1l14 14M755 171.1l-14 14" stroke="#56b4e9" stroke-width="2" fill="none"/>
<path d="M748.2 184.9h14.4M755.4 177.7v14.4M748.4 177.9l14 14M762.4 177.9l-14 14" stroke="#56b4e9" stroke-width="2" fill="none"/>
<path d="M755.6 193.7h14.4M762.8 186.5v14.4M755.8 186.7l14 14M769.8 186.7l-14 14" stroke="#56b4e9" stroke-width="2" fill="none"/>
<path d="M763 193.7h14.4M770.2 186.5v14.4M763.2 186.7l14 14M777.2 186.7l-14 14" stroke="#56b4e9" stroke-width="2" fill="none"/>
<path d="M770.4 197h14.4M777.6 189.8v14.4M770.6 190l14 14M784.6 190l-14 14" stroke="#56b4e9" stroke-width="2" fill="none"/>
<path d="M777.8 197h14.4M785 189.8v14.4M778 190l14 14M792 190l-14 14" stroke="#56b4e9" stroke-width="2" fill="none"/>
<path d="M785.2 197h14.4M792.4 189.8v14.4M785.4 190l14 14M799.4 190l-14 14" stroke="#56b4e9" stroke-width="2" fill="none"/>
<path d="M792.6 199.8h14.4M799.8 192.6v14.4M792.8 192.8l14 14M806.8 192.8l-14 14" stroke="#56b4e9" stroke-width="2" fill="none"/>
<path d="M800 199.8h14.4M807.2 192.6v14.4M800.2 192.8l14 14M814.2 192.8l-14 14" stroke="#56b4e9" stroke-width="2" fill="none"/>
<path d="M807.4 199.8h14.4M814.6 192.6v14.4M807.6 192.8l14 14M821.6 192.8l-14 14" stroke="#56b4e9" stroke-width="2" fill="none"/>
<path d="M814.8 202.5h14.4M822 195.3v14.4M815 195.5l14 14M829 195.5l-14 14" stroke="#56b4e9" stroke-width="2" fill="none"/>
<path d="M822.2 202.5h14.4M829.4 195.3v14.4M822.4 195.5l14 14M836.4 195.5l-14 14" stroke="#56b4e9" stroke-width="2" fill="none"/>
<path d="M829.6 202.5h14.4M836.8 195.3v14.4M829.8 195.5l14 14M843.8 195.5l-14 14" stroke="#56b4e9" stroke-width="2" fill="none"/>
<path d="M837 208.4h14.4M844.2 201.2v14.4M837.2 201.4l14 14M851.2 201.4l-14 14" stroke="#56b4e9" stroke-width="2" fill="none"/>
<path d="M844.4 208.4h14.4M851.6 201.2v14.4M844.6 201.4l14 14M858.6 201.4l-14 14" stroke="#56b4e9" stroke-width="2" fill="none"/>
<path d="M851.8 208.4h14.4M859 201.2v14.4M852 201.4l14 14M866 201.4l-14 14" stroke="#56b4e9" stroke-width="2" fill="none"/>
<polyline points="119,451.4 126.4,451.4 133.8,451.4 141.2,451.4 148.6,451.4 156,451.4 163.4,451.4 170.8,125.2 178.2,125.2 185.6,125.2 193,125.2 200.4,125.2 207.8,125.2 215.2,125.2 222.6,125.2 230,125.2 237.4,125.2 244.8,125.2 252.2,125.2 259.6,125.2 267,125.2 274.4,125.2 281.8,125.2 289.2,125.2 296.6,125.2 304,125.2 311.4,125.2 318.8,125.2 326.2,125.2 333.6,125.2 341,125.2 348.4,125.2 355.8,125.2 363.2,125.2 370.6,129.1 378,129.1 385.4,129.1 392.8,129.1 400.2,125.2 407.6,125.2 415,125.2 422.4,125.2 429.8,125.2 437.2,125.2 444.6,132.7 452,132.7 459.4,132.7 466.8,132.7 474.2,128.5 481.6,128.5 489,132.7 496.4,132.7 503.8,132.7 511.2,132.7 518.6,132.7 526,132.7 533.4,132.7 540.8,128.8 548.2,128.8 555.6,130.1 563,131.4 570.4,131.4 577.8,138.3 585.2,138.3 592.6,138.3 600,131.8 607.4,135.7 614.8,134.4 622.2,130.4 629.6,139.9 637,143.2 644.4,144.8 651.8,146.4 659.2,150 666.6,151.3 674,150.7 681.4,150 688.8,153 696.2,153 703.6,151 711,153 718.4,153.9 725.8,154.6 733.2,174.2 740.6,156.2 748,154.6 755.4,168.6 762.8,168.6 770.2,177.4 777.6,172.5 785,170.6 792.4,174.2 799.8,178.1 807.2,179.7 814.6,175.8 822,175.5 829.4,175.8 836.8,179 844.2,183.9 851.6,183.9 859,187.2" fill="none" stroke="#e69f00" stroke-width="2.2" stroke-linejoin="round"/>
<rect x="111.3" y="443.7" width="15.4" height="15.4" stroke="#e69f00" stroke-width="2" fill="none"/>
<rect x="118.7" y="443.7" width="15.4" height="15.4" stroke="#e69f00" stroke-width="2" fill="none"/>
<rect x="126.1" y="443.7" width="15.4" height="15.4" stroke="#e69f00" stroke-width="2" fill="none"/>
<rect x="133.5" y="443.7" width="15.4" height="15.4" stroke="#e69f00" stroke-width="2" fill="none"/>
<rect x="140.9" y="443.7" width="15.4" height="15.4" stroke="#e69f00" stroke-width="2" fill="none"/>
<rect x="148.3" y="443.7" width="15.4" height="15.4" stroke="#e69f00" stroke-width="2" fill="none"/>
<rect x="155.7" y="443.7" width="15.4" height="15.4" stroke="#e69f00" stroke-width="2" fill="none"/>
<rect x="163.1" y="117.5" width="15.4" height="15.4" stroke="#e69f00" stroke-width="2" fill="none"/>
<rect x="170.5" y="117.5" width="15.4" height="15.4" stroke="#e69f00" stroke-width="2" fill="none"/>
<rect x="177.9" y="117.5" width="15.4" height="15.4" stroke="#e69f00" stroke-width="2" fill="none"/>
<rect x="185.3" y="117.5" width="15.4" height="15.4" stroke="#e69f00" stroke-width="2" fill="none"/>
<rect x="192.7" y="117.5" width="15.4" height="15.4" stroke="#e69f00" stroke-width="2" fill="none"/>
<rect x="200.1" y="117.5" width="15.4" height="15.4" stroke="#e69f00" stroke-width="2" fill="none"/>
<rect x="207.5" y="117.5" width="15.4" height="15.4" stroke="#e69f00" stroke-width="2" fill="none"/>
<rect x="214.9" y="117.5" width="15.4" height="15.4" stroke="#e69f00" stroke-width="2" fill="none"/>
<rect x="222.3" y="117.5" width="15.4" height="15.4" stroke="#e69f00" stroke-width="2" fill="none"/>
<rect x="229.7" y="117.5" width="15.4" height="15.4" stroke="#e69f00" stroke-width="2" fill="none"/>
<rect x="237.1" y="117.5" width="15.4" height="15.4" stroke="#e69f00" stroke-width="2" fill="none"/>
<rect x="244.5" y="117.5" width="15.4" height="15.4" stroke="#e69f00" stroke-width="2" fill="none"/>
<rect x="251.9" y="117.5" width="15.4" height="15.4" stroke="#e69f00" stroke-width="2" fill="none"/>
<rect x="259.3" y="117.5" width="15.4" height="15.4" stroke="#e69f00" stroke-width="2" fill="none"/>
<rect x="266.7" y="117.5" width="15.4" height="15.4" stroke="#e69f00" stroke-width="2" fill="none"/>
<rect x="274.1" y="117.5" width="15.4" height="15.4" stroke="#e69f00" stroke-width="2" fill="none"/>
<rect x="281.5" y="117.5" width="15.4" height="15.4" stroke="#e69f00" stroke-width="2" fill="none"/>
<rect x="288.9" y="117.5" width="15.4" height="15.4" stroke="#e69f00" stroke-width="2" fill="none"/>
<rect x="296.3" y="117.5" width="15.4" height="15.4" stroke="#e69f00" stroke-width="2" fill="none"/>
<rect x="303.7" y="117.5" width="15.4" height="15.4" stroke="#e69f00" stroke-width="2" fill="none"/>
<rect x="311.1" y="117.5" width="15.4" height="15.4" stroke="#e69f00" stroke-width="2" fill="none"/>
<rect x="318.5" y="117.5" width="15.4" height="15.4" stroke="#e69f00" stroke-width="2" fill="none"/>
<rect x="325.9" y="117.5" width="15.4" height="15.4" stroke="#e69f00" stroke-width="2" fill="none"/>
<rect x="333.3" y="117.5" width="15.4" height="15.4" stroke="#e69f00" stroke-width="2" fill="none"/>
<rect x="340.7" y="117.5" width="15.4" height="15.4" stroke="#e69f00" stroke-width="2" fill="none"/>
<rect x="348.1" y="117.5" width="15.4" height="15.4" stroke="#e69f00" stroke-width="2" fill="none"/>
<rect x="355.5" y="117.5" width="15.4" height="15.4" stroke="#e69f00" stroke-width="2" fill="none"/>
<rect x="362.9" y="121.4" width="15.4" height="15.4" stroke="#e69f00" stroke-width="2" fill="none"/>
<rect x="370.3" y="121.4" width="15.4" height="15.4" stroke="#e69f00" stroke-width="2" fill="none"/>
<rect x="377.7" y="121.4" width="15.4" height="15.4" stroke="#e69f00" stroke-width="2" fill="none"/>
<rect x="385.1" y="121.4" width="15.4" height="15.4" stroke="#e69f00" stroke-width="2" fill="none"/>
<rect x="392.5" y="117.5" width="15.4" height="15.4" stroke="#e69f00" stroke-width="2" fill="none"/>
<rect x="399.9" y="117.5" width="15.4" height="15.4" stroke="#e69f00" stroke-width="2" fill="none"/>
<rect x="407.3" y="117.5" width="15.4" height="15.4" stroke="#e69f00" stroke-width="2" fill="none"/>
<rect x="414.7" y="117.5" width="15.4" height="15.4" stroke="#e69f00" stroke-width="2" fill="none"/>
<rect x="422.1" y="117.5" width="15.4" height="15.4" stroke="#e69f00" stroke-width="2" fill="none"/>
<rect x="429.5" y="117.5" width="15.4" height="15.4" stroke="#e69f00" stroke-width="2" fill="none"/>
<rect x="436.9" y="125" width="15.4" height="15.4" stroke="#e69f00" stroke-width="2" fill="none"/>
<rect x="444.3" y="125" width="15.4" height="15.4" stroke="#e69f00" stroke-width="2" fill="none"/>
<rect x="451.7" y="125" width="15.4" height="15.4" stroke="#e69f00" stroke-width="2" fill="none"/>
<rect x="459.1" y="125" width="15.4" height="15.4" stroke="#e69f00" stroke-width="2" fill="none"/>
<rect x="466.5" y="120.8" width="15.4" height="15.4" stroke="#e69f00" stroke-width="2" fill="none"/>
<rect x="473.9" y="120.8" width="15.4" height="15.4" stroke="#e69f00" stroke-width="2" fill="none"/>
<rect x="481.3" y="125" width="15.4" height="15.4" stroke="#e69f00" stroke-width="2" fill="none"/>
<rect x="488.7" y="125" width="15.4" height="15.4" stroke="#e69f00" stroke-width="2" fill="none"/>
<rect x="496.1" y="125" width="15.4" height="15.4" stroke="#e69f00" stroke-width="2" fill="none"/>
<rect x="503.5" y="125" width="15.4" height="15.4" stroke="#e69f00" stroke-width="2" fill="none"/>
<rect x="510.9" y="125" width="15.4" height="15.4" stroke="#e69f00" stroke-width="2" fill="none"/>
<rect x="518.3" y="125" width="15.4" height="15.4" stroke="#e69f00" stroke-width="2" fill="none"/>
<rect x="525.7" y="125" width="15.4" height="15.4" stroke="#e69f00" stroke-width="2" fill="none"/>
<rect x="533.1" y="121.1" width="15.4" height="15.4" stroke="#e69f00" stroke-width="2" fill="none"/>
<rect x="540.5" y="121.1" width="15.4" height="15.4" stroke="#e69f00" stroke-width="2" fill="none"/>
<rect x="547.9" y="122.4" width="15.4" height="15.4" stroke="#e69f00" stroke-width="2" fill="none"/>
<rect x="555.3" y="123.7" width="15.4" height="15.4" stroke="#e69f00" stroke-width="2" fill="none"/>
<rect x="562.7" y="123.7" width="15.4" height="15.4" stroke="#e69f00" stroke-width="2" fill="none"/>
<rect x="570.1" y="130.6" width="15.4" height="15.4" stroke="#e69f00" stroke-width="2" fill="none"/>
<rect x="577.5" y="130.6" width="15.4" height="15.4" stroke="#e69f00" stroke-width="2" fill="none"/>
<rect x="584.9" y="130.6" width="15.4" height="15.4" stroke="#e69f00" stroke-width="2" fill="none"/>
<rect x="592.3" y="124.1" width="15.4" height="15.4" stroke="#e69f00" stroke-width="2" fill="none"/>
<rect x="599.7" y="128" width="15.4" height="15.4" stroke="#e69f00" stroke-width="2" fill="none"/>
<rect x="607.1" y="126.7" width="15.4" height="15.4" stroke="#e69f00" stroke-width="2" fill="none"/>
<rect x="614.5" y="122.7" width="15.4" height="15.4" stroke="#e69f00" stroke-width="2" fill="none"/>
<rect x="621.9" y="132.2" width="15.4" height="15.4" stroke="#e69f00" stroke-width="2" fill="none"/>
<rect x="629.3" y="135.5" width="15.4" height="15.4" stroke="#e69f00" stroke-width="2" fill="none"/>
<rect x="636.7" y="137.1" width="15.4" height="15.4" stroke="#e69f00" stroke-width="2" fill="none"/>
<rect x="644.1" y="138.7" width="15.4" height="15.4" stroke="#e69f00" stroke-width="2" fill="none"/>
<rect x="651.5" y="142.3" width="15.4" height="15.4" stroke="#e69f00" stroke-width="2" fill="none"/>
<rect x="658.9" y="143.6" width="15.4" height="15.4" stroke="#e69f00" stroke-width="2" fill="none"/>
<rect x="666.3" y="143" width="15.4" height="15.4" stroke="#e69f00" stroke-width="2" fill="none"/>
<rect x="673.7" y="142.3" width="15.4" height="15.4" stroke="#e69f00" stroke-width="2" fill="none"/>
<rect x="681.1" y="145.3" width="15.4" height="15.4" stroke="#e69f00" stroke-width="2" fill="none"/>
<rect x="688.5" y="145.3" width="15.4" height="15.4" stroke="#e69f00" stroke-width="2" fill="none"/>
<rect x="695.9" y="143.3" width="15.4" height="15.4" stroke="#e69f00" stroke-width="2" fill="none"/>
<rect x="703.3" y="145.3" width="15.4" height="15.4" stroke="#e69f00" stroke-width="2" fill="none"/>
<rect x="710.7" y="146.2" width="15.4" height="15.4" stroke="#e69f00" stroke-width="2" fill="none"/>
<rect x="718.1" y="146.9" width="15.4" height="15.4" stroke="#e69f00" stroke-width="2" fill="none"/>
<rect x="725.5" y="166.5" width="15.4" height="15.4" stroke="#e69f00" stroke-width="2" fill="none"/>
<rect x="732.9" y="148.5" width="15.4" height="15.4" stroke="#e69f00" stroke-width="2" fill="none"/>
<rect x="740.3" y="146.9" width="15.4" height="15.4" stroke="#e69f00" stroke-width="2" fill="none"/>
<rect x="747.7" y="160.9" width="15.4" height="15.4" stroke="#e69f00" stroke-width="2" fill="none"/>
<rect x="755.1" y="160.9" width="15.4" height="15.4" stroke="#e69f00" stroke-width="2" fill="none"/>
<rect x="762.5" y="169.7" width="15.4" height="15.4" stroke="#e69f00" stroke-width="2" fill="none"/>
<rect x="769.9" y="164.8" width="15.4" height="15.4" stroke="#e69f00" stroke-width="2" fill="none"/>
<rect x="777.3" y="162.9" width="15.4" height="15.4" stroke="#e69f00" stroke-width="2" fill="none"/>
<rect x="784.7" y="166.5" width="15.4" height="15.4" stroke="#e69f00" stroke-width="2" fill="none"/>
<rect x="792.1" y="170.4" width="15.4" height="15.4" stroke="#e69f00" stroke-width="2" fill="none"/>
<rect x="799.5" y="172" width="15.4" height="15.4" stroke="#e69f00" stroke-width="2" fill="none"/>
<rect x="806.9" y="168.1" width="15.4" height="15.4" stroke="#e69f00" stroke-width="2" fill="none"/>
<rect x="814.3" y="167.8" width="15.4" height="15.4" stroke="#e69f00" stroke-width="2" fill="none"/>
<rect x="821.7" y="168.1" width="15.4" height="15.4" stroke="#e69f00" stroke-width="2" fill="none"/>
<rect x="829.1" y="171.3" width="15.4" height="15.4" stroke="#e69f00" stroke-width="2" fill="none"/>
<rect x="836.5" y="176.2" width="15.4" height="15.4" stroke="#e69f00" stroke-width="2" fill="none"/>
<rect x="843.9" y="176.2" width="15.4" height="15.4" stroke="#e69f00" stroke-width="2" fill="none"/>
<rect x="851.3" y="179.5" width="15.4" height="15.4" stroke="#e69f00" stroke-width="2" fill="none"/>
<polyline points="119,451.4 126.4,451.4 133.8,451.4 141.2,451.4 148.6,451.4 156,451.4 163.4,451.4 170.8,125.2 178.2,125.2 185.6,125.2 193,125.2 200.4,125.2 207.8,125.2 215.2,125.2 222.6,125.2 230,125.2 237.4,125.2 244.8,129.3 252.2,125.2 259.6,125.2 267,125.2 274.4,125.2 281.8,125.2 289.2,125.2 296.6,126.9 304,126.9 311.4,127.5 318.8,135.7 326.2,137.8 333.6,137.8 341,137.8 348.4,137.8 355.8,139.7 363.2,139.7 370.6,139.7 378,139.7 385.4,139.7 392.8,139.7 400.2,139.7 407.6,136.6 415,136.6 422.4,129.5 429.8,129.5 437.2,129.5 444.6,140.4 452,140.4 459.4,140.4 466.8,140.4 474.2,135 481.6,135 489,142.4 496.4,144.6 503.8,144.6 511.2,144.6 518.6,144.6 526,157 533.4,157 540.8,157 548.2,149.7 555.6,143.3 563,143.3 570.4,138.6 577.8,138.6 585.2,138.6 592.6,138.6 600,150.3 607.4,150.3 614.8,156.2 622.2,156.2 629.6,156.2 637,166.2 644.4,166.2 651.8,166.2 659.2,166.2 666.6,166.2 674,166.2 681.4,166.2 688.8,166.2 696.2,176.8 703.6,176.8 711,176.8 718.4,179.2 725.8,179.2 733.2,179.2 740.6,178.1 748,178.1 755.4,184.9 762.8,193.7 770.2,193.7 777.6,197 785,197 792.4,197 799.8,199.8 807.2,199.8 814.6,199.8 822,202.5 829.4,202.5 836.8,202.5 844.2,208.4 851.6,208.4 859,208.4" fill="none" stroke="#f0e442" stroke-width="2.2" stroke-linejoin="round"/>
<rect x="110.5" y="442.9" width="17" height="17" fill="#f0e442"/>
<rect x="117.9" y="442.9" width="17" height="17" fill="#f0e442"/>
<rect x="125.3" y="442.9" width="17" height="17" fill="#f0e442"/>
<rect x="132.7" y="442.9" width="17" height="17" fill="#f0e442"/>
<rect x="140.1" y="442.9" width="17" height="17" fill="#f0e442"/>
<rect x="147.5" y="442.9" width="17" height="17" fill="#f0e442"/>
<rect x="154.9" y="442.9" width="17" height="17" fill="#f0e442"/>
<rect x="162.3" y="116.7" width="17" height="17" fill="#f0e442"/>
<rect x="169.7" y="116.7" width="17" height="17" fill="#f0e442"/>
<rect x="177.1" y="116.7" width="17" height="17" fill="#f0e442"/>
<rect x="184.5" y="116.7" width="17" height="17" fill="#f0e442"/>
<rect x="191.9" y="116.7" width="17" height="17" fill="#f0e442"/>
<rect x="199.3" y="116.7" width="17" height="17" fill="#f0e442"/>
<rect x="206.7" y="116.7" width="17" height="17" fill="#f0e442"/>
<rect x="214.1" y="116.7" width="17" height="17" fill="#f0e442"/>
<rect x="221.5" y="116.7" width="17" height="17" fill="#f0e442"/>
<rect x="228.9" y="116.7" width="17" height="17" fill="#f0e442"/>
<rect x="236.3" y="116.7" width="17" height="25.2" fill="#f0e442"/>
<rect x="243.7" y="116.7" width="17" height="17" fill="#f0e442"/>
<rect x="251.1" y="116.7" width="17" height="17" fill="#f0e442"/>
<rect x="258.5" y="116.7" width="17" height="17" fill="#f0e442"/>
<rect x="265.9" y="116.7" width="17" height="17" fill="#f0e442"/>
<rect x="273.3" y="116.7" width="17" height="17" fill="#f0e442"/>
<rect x="280.7" y="116.7" width="17" height="17" fill="#f0e442"/>
<rect x="288.1" y="116.7" width="17" height="20.3" fill="#f0e442"/>
<rect x="295.5" y="116.7" width="17" height="20.3" fill="#f0e442"/>
<rect x="302.9" y="116.7" width="17" height="21.6" fill="#f0e442"/>
<rect x="310.3" y="126.2" width="17" height="19" fill="#f0e442"/>
<rect x="317.7" y="126.2" width="17" height="23.2" fill="#f0e442"/>
<rect x="325.1" y="126.2" width="17" height="23.2" fill="#f0e442"/>
<rect x="332.5" y="126.2" width="17" height="23.2" fill="#f0e442"/>
<rect x="339.9" y="126.2" width="17" height="23.2" fill="#f0e442"/>
<rect x="347.3" y="126.2" width="17" height="27.1" fill="#f0e442"/>
<rect x="354.7" y="126.2" width="17" height="27.1" fill="#f0e442"/>
<rect x="362.1" y="126.2" width="17" height="27.1" fill="#f0e442"/>
<rect x="369.5" y="126.2" width="17" height="27.1" fill="#f0e442"/>
<rect x="376.9" y="126.2" width="17" height="27.1" fill="#f0e442"/>
<rect x="384.3" y="126.2" width="17" height="27.1" fill="#f0e442"/>
<rect x="391.7" y="126.2" width="17" height="27.1" fill="#f0e442"/>
<rect x="399.1" y="120" width="17" height="33.3" fill="#f0e442"/>
<rect x="406.5" y="120" width="17" height="33.3" fill="#f0e442"/>
<rect x="413.9" y="120" width="17" height="19" fill="#f0e442"/>
<rect x="421.3" y="120" width="17" height="19" fill="#f0e442"/>
<rect x="428.7" y="120" width="17" height="19" fill="#f0e442"/>
<rect x="436.1" y="130.8" width="17" height="19.3" fill="#f0e442"/>
<rect x="443.5" y="130.8" width="17" height="19.3" fill="#f0e442"/>
<rect x="450.9" y="130.8" width="17" height="19.3" fill="#f0e442"/>
<rect x="458.3" y="130.8" width="17" height="19.3" fill="#f0e442"/>
<rect x="465.7" y="119" width="17" height="32" fill="#f0e442"/>
<rect x="473.1" y="119" width="17" height="32" fill="#f0e442"/>
<rect x="480.5" y="129.8" width="17" height="25.2" fill="#f0e442"/>
<rect x="487.9" y="133" width="17" height="23.2" fill="#f0e442"/>
<rect x="495.3" y="133" width="17" height="23.2" fill="#f0e442"/>
<rect x="502.7" y="133" width="17" height="23.2" fill="#f0e442"/>
<rect x="510.1" y="133" width="17" height="23.2" fill="#f0e442"/>
<rect x="517.5" y="133" width="17" height="48" fill="#f0e442"/>
<rect x="524.9" y="133" width="17" height="48" fill="#f0e442"/>
<rect x="532.3" y="133" width="17" height="48" fill="#f0e442"/>
<rect x="539.7" y="133" width="17" height="33.3" fill="#f0e442"/>
<rect x="547.1" y="130.4" width="17" height="25.8" fill="#f0e442"/>
<rect x="554.5" y="130.4" width="17" height="25.8" fill="#f0e442"/>
<rect x="561.9" y="126.2" width="17" height="24.8" fill="#f0e442"/>
<rect x="569.3" y="126.2" width="17" height="24.8" fill="#f0e442"/>
<rect x="576.7" y="126.2" width="17" height="24.8" fill="#f0e442"/>
<rect x="584.1" y="126.2" width="17" height="24.8" fill="#f0e442"/>
<rect x="591.5" y="139.6" width="17" height="21.6" fill="#f0e442"/>
<rect x="598.9" y="139.6" width="17" height="21.6" fill="#f0e442"/>
<rect x="606.3" y="139.6" width="17" height="33.3" fill="#f0e442"/>
<rect x="613.7" y="139.6" width="17" height="33.3" fill="#f0e442"/>
<rect x="621.1" y="139.6" width="17" height="33.3" fill="#f0e442"/>
<rect x="628.5" y="154.2" width="17" height="23.8" fill="#f0e442"/>
<rect x="635.9" y="154.2" width="17" height="23.8" fill="#f0e442"/>
<rect x="643.3" y="154.2" width="17" height="23.8" fill="#f0e442"/>
<rect x="650.7" y="154.2" width="17" height="23.8" fill="#f0e442"/>
<rect x="658.1" y="154.2" width="17" height="23.8" fill="#f0e442"/>
<rect x="665.5" y="154.2" width="17" height="23.8" fill="#f0e442"/>
<rect x="672.9" y="154.2" width="17" height="23.8" fill="#f0e442"/>
<rect x="680.3" y="154.2" width="17" height="23.8" fill="#f0e442"/>
<rect x="687.7" y="157.8" width="17" height="37.9" fill="#f0e442"/>
<rect x="695.1" y="157.8" width="17" height="37.9" fill="#f0e442"/>
<rect x="702.5" y="157.8" width="17" height="37.9" fill="#f0e442"/>
<rect x="709.9" y="157.8" width="17" height="42.8" fill="#f0e442"/>
<rect x="717.3" y="157.8" width="17" height="42.8" fill="#f0e442"/>
<rect x="724.7" y="157.8" width="17" height="42.8" fill="#f0e442"/>
<rect x="732.1" y="153.9" width="17" height="48.3" fill="#f0e442"/>
<rect x="739.5" y="153.9" width="17" height="48.3" fill="#f0e442"/>
<rect x="746.9" y="161.1" width="17" height="47.7" fill="#f0e442"/>
<rect x="754.3" y="170.5" width="17" height="46.4" fill="#f0e442"/>
<rect x="761.7" y="170.5" width="17" height="46.4" fill="#f0e442"/>
<rect x="769.1" y="175.4" width="17" height="43.1" fill="#f0e442"/>
<rect x="776.5" y="175.4" width="17" height="43.1" fill="#f0e442"/>
<rect x="783.9" y="175.4" width="17" height="43.1" fill="#f0e442"/>
<rect x="791.3" y="178.7" width="17" height="42.1" fill="#f0e442"/>
<rect x="798.7" y="178.7" width="17" height="42.1" fill="#f0e442"/>
<rect x="806.1" y="178.7" width="17" height="42.1" fill="#f0e442"/>
<rect x="813.5" y="180" width="17" height="45.1" fill="#f0e442"/>
<rect x="820.9" y="180" width="17" height="45.1" fill="#f0e442"/>
<rect x="828.3" y="180" width="17" height="45.1" fill="#f0e442"/>
<rect x="835.7" y="185.2" width="17" height="46.4" fill="#f0e442"/>
<rect x="843.1" y="185.2" width="17" height="46.4" fill="#f0e442"/>
<rect x="850.5" y="185.2" width="17" height="46.4" fill="#f0e442"/>
<polyline points="119,451.4 126.4,451.4 133.8,451.4 141.2,451.4 148.6,451.4 156,451.4 163.4,451.4 170.8,125.2 178.2,125.2 185.6,125.2 193,125.2 200.4,125.2 207.8,125.2 215.2,125.2 222.6,125.2 230,125.2 237.4,125.2 244.8,135 252.2,125.2 259.6,125.2 267,128.5 274.4,131.8 281.8,136.6 289.2,141.5 296.6,143.2 304,139.9 311.4,173.2 318.8,152.6 326.2,170.6 333.6,161.1 341,168 348.4,179.7 355.8,146.8 363.2,144.8 370.6,143.2 378,152.6 385.4,151.3 392.8,143.2 400.2,144.8 407.6,137.3 415,132.4 422.4,155.9 429.8,155.9 437.2,170.9 444.6,170.9 452,163.7 459.4,167.6 466.8,164.4 474.2,157.8 481.6,145.5 489,149.7 496.4,154.6 503.8,148.1 511.2,149.7 518.6,155.9 526,155.9 533.4,183.9 540.8,154.6 548.2,154.6 555.6,177.7 563,161.1 570.4,161.8 577.8,174.8 585.2,163.7 592.6,186.5 600,170.9 607.4,175.8 614.8,181.7 622.2,155.2 629.6,185.6 637,170.9 644.4,178.4 651.8,174.8 659.2,187.2 666.6,181.7 674,193.7 681.4,183.9 688.8,188.8 696.2,190.5 703.6,180.7 711,193.7 718.4,193.7 725.8,183 733.2,204.2 740.6,200.2 748,183.9 755.4,195.7 762.8,205.8 770.2,205.1 777.6,205.5 785,197 792.4,206.1 799.8,206.1 807.2,204.2 814.6,223.1 822,205.5 829.4,206.8 836.8,208.4 844.2,206.8 851.6,219.8 859,232.9" fill="none" stroke="#0072b2" stroke-width="2.2" stroke-linejoin="round"/>
<circle cx="119" cy="451.4" r="7.5" stroke="#0072b2" stroke-width="2" fill="none"/>
<circle cx="126.4" cy="451.4" r="7.5" stroke="#0072b2" stroke-width="2" fill="none"/>
<circle cx="133.8" cy="451.4" r="7.5" stroke="#0072b2" stroke-width="2" fill="none"/>
<circle cx="141.2" cy="451.4" r="7.5" stroke="#0072b2" stroke-width="2" fill="none"/>
<circle cx="148.6" cy="451.4" r="7.5" stroke="#0072b2" stroke-width="2" fill="none"/>
<circle cx="156" cy="451.4" r="7.5" stroke="#0072b2" stroke-width="2" fill="none"/>
<circle cx="163.4" cy="451.4" r="7.5" stroke="#0072b2" stroke-width="2" fill="none"/>
<circle cx="170.8" cy="125.2" r="7.5" stroke="#0072b2" stroke-width="2" fill="none"/>
<circle cx="178.2" cy="125.2" r="7.5" stroke="#0072b2" stroke-width="2" fill="none"/>
<circle cx="185.6" cy="125.2" r="7.5" stroke="#0072b2" stroke-width="2" fill="none"/>
<circle cx="193" cy="125.2" r="7.5" stroke="#0072b2" stroke-width="2" fill="none"/>
<circle cx="200.4" cy="125.2" r="7.5" stroke="#0072b2" stroke-width="2" fill="none"/>
<circle cx="207.8" cy="125.2" r="7.5" stroke="#0072b2" stroke-width="2" fill="none"/>
<circle cx="215.2" cy="125.2" r="7.5" stroke="#0072b2" stroke-width="2" fill="none"/>
<circle cx="222.6" cy="125.2" r="7.5" stroke="#0072b2" stroke-width="2" fill="none"/>
<circle cx="230" cy="125.2" r="7.5" stroke="#0072b2" stroke-width="2" fill="none"/>
<circle cx="237.4" cy="125.2" r="7.5" stroke="#0072b2" stroke-width="2" fill="none"/>
<circle cx="244.8" cy="135" r="7.5" stroke="#0072b2" stroke-width="2" fill="none"/>
<circle cx="252.2" cy="125.2" r="7.5" stroke="#0072b2" stroke-width="2" fill="none"/>
<circle cx="259.6" cy="125.2" r="7.5" stroke="#0072b2" stroke-width="2" fill="none"/>
<circle cx="267" cy="128.5" r="7.5" stroke="#0072b2" stroke-width="2" fill="none"/>
<circle cx="274.4" cy="131.8" r="7.5" stroke="#0072b2" stroke-width="2" fill="none"/>
<circle cx="281.8" cy="136.6" r="7.5" stroke="#0072b2" stroke-width="2" fill="none"/>
<circle cx="289.2" cy="141.5" r="7.5" stroke="#0072b2" stroke-width="2" fill="none"/>
<circle cx="296.6" cy="143.2" r="7.5" stroke="#0072b2" stroke-width="2" fill="none"/>
<circle cx="304" cy="139.9" r="7.5" stroke="#0072b2" stroke-width="2" fill="none"/>
<circle cx="311.4" cy="173.2" r="7.5" stroke="#0072b2" stroke-width="2" fill="none"/>
<circle cx="318.8" cy="152.6" r="7.5" stroke="#0072b2" stroke-width="2" fill="none"/>
<circle cx="326.2" cy="170.6" r="7.5" stroke="#0072b2" stroke-width="2" fill="none"/>
<circle cx="333.6" cy="161.1" r="7.5" stroke="#0072b2" stroke-width="2" fill="none"/>
<circle cx="341" cy="168" r="7.5" stroke="#0072b2" stroke-width="2" fill="none"/>
<circle cx="348.4" cy="179.7" r="7.5" stroke="#0072b2" stroke-width="2" fill="none"/>
<circle cx="355.8" cy="146.8" r="7.5" stroke="#0072b2" stroke-width="2" fill="none"/>
<circle cx="363.2" cy="144.8" r="7.5" stroke="#0072b2" stroke-width="2" fill="none"/>
<circle cx="370.6" cy="143.2" r="7.5" stroke="#0072b2" stroke-width="2" fill="none"/>
<circle cx="378" cy="152.6" r="7.5" stroke="#0072b2" stroke-width="2" fill="none"/>
<circle cx="385.4" cy="151.3" r="7.5" stroke="#0072b2" stroke-width="2" fill="none"/>
<circle cx="392.8" cy="143.2" r="7.5" stroke="#0072b2" stroke-width="2" fill="none"/>
<circle cx="400.2" cy="144.8" r="7.5" stroke="#0072b2" stroke-width="2" fill="none"/>
<circle cx="407.6" cy="137.3" r="7.5" stroke="#0072b2" stroke-width="2" fill="none"/>
<circle cx="415" cy="132.4" r="7.5" stroke="#0072b2" stroke-width="2" fill="none"/>
<circle cx="422.4" cy="155.9" r="7.5" stroke="#0072b2" stroke-width="2" fill="none"/>
<circle cx="429.8" cy="155.9" r="7.5" stroke="#0072b2" stroke-width="2" fill="none"/>
<circle cx="437.2" cy="170.9" r="7.5" stroke="#0072b2" stroke-width="2" fill="none"/>
<circle cx="444.6" cy="170.9" r="7.5" stroke="#0072b2" stroke-width="2" fill="none"/>
<circle cx="452" cy="163.7" r="7.5" stroke="#0072b2" stroke-width="2" fill="none"/>
<circle cx="459.4" cy="167.6" r="7.5" stroke="#0072b2" stroke-width="2" fill="none"/>
<circle cx="466.8" cy="164.4" r="7.5" stroke="#0072b2" stroke-width="2" fill="none"/>
<circle cx="474.2" cy="157.8" r="7.5" stroke="#0072b2" stroke-width="2" fill="none"/>
<circle cx="481.6" cy="145.5" r="7.5" stroke="#0072b2" stroke-width="2" fill="none"/>
<circle cx="489" cy="149.7" r="7.5" stroke="#0072b2" stroke-width="2" fill="none"/>
<circle cx="496.4" cy="154.6" r="7.5" stroke="#0072b2" stroke-width="2" fill="none"/>
<circle cx="503.8" cy="148.1" r="7.5" stroke="#0072b2" stroke-width="2" fill="none"/>
<circle cx="511.2" cy="149.7" r="7.5" stroke="#0072b2" stroke-width="2" fill="none"/>
<circle cx="518.6" cy="155.9" r="7.5" stroke="#0072b2" stroke-width="2" fill="none"/>
<circle cx="526" cy="155.9" r="7.5" stroke="#0072b2" stroke-width="2" fill="none"/>
<circle cx="533.4" cy="183.9" r="7.5" stroke="#0072b2" stroke-width="2" fill="none"/>
<circle cx="540.8" cy="154.6" r="7.5" stroke="#0072b2" stroke-width="2" fill="none"/>
<circle cx="548.2" cy="154.6" r="7.5" stroke="#0072b2" stroke-width="2" fill="none"/>
<circle cx="555.6" cy="177.7" r="7.5" stroke="#0072b2" stroke-width="2" fill="none"/>
<circle cx="563" cy="161.1" r="7.5" stroke="#0072b2" stroke-width="2" fill="none"/>
<circle cx="570.4" cy="161.8" r="7.5" stroke="#0072b2" stroke-width="2" fill="none"/>
<circle cx="577.8" cy="174.8" r="7.5" stroke="#0072b2" stroke-width="2" fill="none"/>
<circle cx="585.2" cy="163.7" r="7.5" stroke="#0072b2" stroke-width="2" fill="none"/>
<circle cx="592.6" cy="186.5" r="7.5" stroke="#0072b2" stroke-width="2" fill="none"/>
<circle cx="600" cy="170.9" r="7.5" stroke="#0072b2" stroke-width="2" fill="none"/>
<circle cx="607.4" cy="175.8" r="7.5" stroke="#0072b2" stroke-width="2" fill="none"/>
<circle cx="614.8" cy="181.7" r="7.5" stroke="#0072b2" stroke-width="2" fill="none"/>
<circle cx="622.2" cy="155.2" r="7.5" stroke="#0072b2" stroke-width="2" fill="none"/>
<circle cx="629.6" cy="185.6" r="7.5" stroke="#0072b2" stroke-width="2" fill="none"/>
<circle cx="637" cy="170.9" r="7.5" stroke="#0072b2" stroke-width="2" fill="none"/>
<circle cx="644.4" cy="178.4" r="7.5" stroke="#0072b2" stroke-width="2" fill="none"/>
<circle cx="651.8" cy="174.8" r="7.5" stroke="#0072b2" stroke-width="2" fill="none"/>
<circle cx="659.2" cy="187.2" r="7.5" stroke="#0072b2" stroke-width="2" fill="none"/>
<circle cx="666.6" cy="181.7" r="7.5" stroke="#0072b2" stroke-width="2" fill="none"/>
<circle cx="674" cy="193.7" r="7.5" stroke="#0072b2" stroke-width="2" fill="none"/>
<circle cx="681.4" cy="183.9" r="7.5" stroke="#0072b2" stroke-width="2" fill="none"/>
<circle cx="688.8" cy="188.8" r="7.5" stroke="#0072b2" stroke-width="2" fill="none"/>
<circle cx="696.2" cy="190.5" r="7.5" stroke="#0072b2" stroke-width="2" fill="none"/>
<circle cx="703.6" cy="180.7" r="7.5" stroke="#0072b2" stroke-width="2" fill="none"/>
<circle cx="711" cy="193.7" r="7.5" stroke="#0072b2" stroke-width="2" fill="none"/>
<circle cx="718.4" cy="193.7" r="7.5" stroke="#0072b2" stroke-width="2" fill="none"/>
<circle cx="725.8" cy="183" r="7.5" stroke="#0072b2" stroke-width="2" fill="none"/>
<circle cx="733.2" cy="204.2" r="7.5" stroke="#0072b2" stroke-width="2" fill="none"/>
<circle cx="740.6" cy="200.2" r="7.5" stroke="#0072b2" stroke-width="2" fill="none"/>
<circle cx="748" cy="183.9" r="7.5" stroke="#0072b2" stroke-width="2" fill="none"/>
<circle cx="755.4" cy="195.7" r="7.5" stroke="#0072b2" stroke-width="2" fill="none"/>
<circle cx="762.8" cy="205.8" r="7.5" stroke="#0072b2" stroke-width="2" fill="none"/>
<circle cx="770.2" cy="205.1" r="7.5" stroke="#0072b2" stroke-width="2" fill="none"/>
<circle cx="777.6" cy="205.5" r="7.5" stroke="#0072b2" stroke-width="2" fill="none"/>
<circle cx="785" cy="197" r="7.5" stroke="#0072b2" stroke-width="2" fill="none"/>
<circle cx="792.4" cy="206.1" r="7.5" stroke="#0072b2" stroke-width="2" fill="none"/>
<circle cx="799.8" cy="206.1" r="7.5" stroke="#0072b2" stroke-width="2" fill="none"/>
<circle cx="807.2" cy="204.2" r="7.5" stroke="#0072b2" stroke-width="2" fill="none"/>
<circle cx="814.6" cy="223.1" r="7.5" stroke="#0072b2" stroke-width="2" fill="none"/>
<circle cx="822" cy="205.5" r="7.5" stroke="#0072b2" stroke-width="2" fill="none"/>
<circle cx="829.4" cy="206.8" r="7.5" stroke="#0072b2" stroke-width="2" fill="none"/>
<circle cx="836.8" cy="208.4" r="7.5" stroke="#0072b2" stroke-width="2" fill="none"/>
<circle cx="844.2" cy="206.8" r="7.5" stroke="#0072b2" stroke-width="2" fill="none"/>
<circle cx="851.6" cy="219.8" r="7.5" stroke="#0072b2" stroke-width="2" fill="none"/>
<circle cx="859" cy="232.9" r="7.5" stroke="#0072b2" stroke-width="2" fill="none"/>
<polyline points="119,451.4 126.4,451.4 133.8,451.4 141.2,451.4 148.6,451.4 156,451.4 163.4,451.4 170.8,125.2 178.2,125.2 185.6,125.2 193,125.2 200.4,201.2 207.8,234.5 215.2,234.5 222.6,139.9 230,139.9 237.4,218.2 244.8,190.5 252.2,178.1 259.6,163.1 267,135.7 274.4,163.1 281.8,135.7 289.2,144.1 296.6,149 304,200.6 311.4,246.2 318.8,194.4 326.2,190.5 333.6,164.7 341,185.2 348.4,228.6 355.8,212.3 363.2,195 370.6,193.7 378,235.1 385.4,243 392.8,219.2 400.2,220.1 407.6,202.2 415,175.8 422.4,204.2 429.8,201.6 437.2,197.6 444.6,183.9 452,167.6 459.4,163.4 466.8,158.5 474.2,171.5 481.6,160.1 489,165.7 496.4,180.7 503.8,160.8 511.2,162.1 518.6,161.4 526,160.5 533.4,199.3 540.8,196 548.2,195.4 555.6,211 563,211 570.4,192.4 577.8,200.2 585.2,178.1 592.6,211 600,204.2 607.4,204.2 614.8,211 622.2,186.5 629.6,217.9 637,205.8 644.4,215.9 651.8,212.6 659.2,214.3 666.6,207.4 674,222.8 681.4,221.1 688.8,223.7 696.2,226.3 703.6,216.6 711,226.3 718.4,223.1 725.8,206.8 733.2,231.2 740.6,233.8 748,212.6 755.4,221.1 762.8,240.7 770.2,232.2 777.6,232.2 785,221.8 792.4,232.2 799.8,234.5 807.2,229.6 814.6,250.8 822,224.1 829.4,220.8 836.8,231.2 844.2,231.2 851.6,245.9 859,256.7" fill="none" stroke="#e51e10" stroke-width="2.2" stroke-linejoin="round"/>
<circle cx="119" cy="451.4" r="8.5" fill="#e51e10"/>
<circle cx="126.4" cy="451.4" r="8.5" fill="#e51e10"/>
<circle cx="133.8" cy="451.4" r="8.5" fill="#e51e10"/>
<circle cx="141.2" cy="451.4" r="8.5" fill="#e51e10"/>
<circle cx="148.6" cy="451.4" r="8.5" fill="#e51e10"/>
<circle cx="156" cy="451.4" r="8.5" fill="#e51e10"/>
<circle cx="163.4" cy="451.4" r="8.5" fill="#e51e10"/>
<circle cx="170.8" cy="125.2" r="8.5" fill="#e51e10"/>
<circle cx="178.2" cy="125.2" r="8.5" fill="#e51e10"/>
<circle cx="185.6" cy="125.2" r="8.5" fill="#e51e10"/>
<circle cx="193" cy="125.2" r="8.5" fill="#e51e10"/>
<circle cx="200.4" cy="201.2" r="8.5" fill="#e51e10"/>
<circle cx="207.8" cy="234.5" r="8.5" fill="#e51e10"/>
<circle cx="215.2" cy="234.5" r="8.5" fill="#e51e10"/>
<circle cx="222.6" cy="139.9" r="8.5" fill="#e51e10"/>
<circle cx="230" cy="139.9" r="8.5" fill="#e51e10"/>
<circle cx="237.4" cy="218.2" r="8.5" fill="#e51e10"/>
<circle cx="244.8" cy="190.5" r="8.5" fill="#e51e10"/>
<circle cx="252.2" cy="178.1" r="8.5" fill="#e51e10"/>
<circle cx="259.6" cy="163.1" r="8.5" fill="#e51e10"/>
<circle cx="267" cy="135.7" r="8.5" fill="#e51e10"/>
<circle cx="274.4" cy="163.1" r="8.5" fill="#e51e10"/>
<circle cx="281.8" cy="135.7" r="8.5" fill="#e51e10"/>
<circle cx="289.2" cy="144.1" r="8.5" fill="#e51e10"/>
<circle cx="296.6" cy="149" r="8.5" fill="#e51e10"/>
<circle cx="304" cy="200.6" r="8.5" fill="#e51e10"/>
<circle cx="311.4" cy="246.2" r="8.5" fill="#e51e10"/>
<circle cx="318.8" cy="194.4" r="8.5" fill="#e51e10"/>
<circle cx="326.2" cy="190.5" r="8.5" fill="#e51e10"/>
<circle cx="333.6" cy="164.7" r="8.5" fill="#e51e10"/>
<circle cx="341" cy="185.2" r="8.5" fill="#e51e10"/>
<circle cx="348.4" cy="228.6" r="8.5" fill="#e51e10"/>
<circle cx="355.8" cy="212.3" r="8.5" fill="#e51e10"/>
<circle cx="363.2" cy="195" r="8.5" fill="#e51e10"/>
<circle cx="370.6" cy="193.7" r="8.5" fill="#e51e10"/>
<circle cx="378" cy="235.1" r="8.5" fill="#e51e10"/>
<circle cx="385.4" cy="243" r="8.5" fill="#e51e10"/>
<circle cx="392.8" cy="219.2" r="8.5" fill="#e51e10"/>
<circle cx="400.2" cy="220.1" r="8.5" fill="#e51e10"/>
<circle cx="407.6" cy="202.2" r="8.5" fill="#e51e10"/>
<circle cx="415" cy="175.8" r="8.5" fill="#e51e10"/>
<circle cx="422.4" cy="204.2" r="8.5" fill="#e51e10"/>
<circle cx="429.8" cy="201.6" r="8.5" fill="#e51e10"/>
<circle cx="437.2" cy="197.6" r="8.5" fill="#e51e10"/>
<circle cx="444.6" cy="183.9" r="8.5" fill="#e51e10"/>
<circle cx="452" cy="167.6" r="8.5" fill="#e51e10"/>
<circle cx="459.4" cy="163.4" r="8.5" fill="#e51e10"/>
<circle cx="466.8" cy="158.5" r="8.5" fill="#e51e10"/>
<circle cx="474.2" cy="171.5" r="8.5" fill="#e51e10"/>
<circle cx="481.6" cy="160.1" r="8.5" fill="#e51e10"/>
<circle cx="489" cy="165.7" r="8.5" fill="#e51e10"/>
<circle cx="496.4" cy="180.7" r="8.5" fill="#e51e10"/>
<circle cx="503.8" cy="160.8" r="8.5" fill="#e51e10"/>
<circle cx="511.2" cy="162.1" r="8.5" fill="#e51e10"/>
<circle cx="518.6" cy="161.4" r="8.5" fill="#e51e10"/>
<circle cx="526" cy="160.5" r="8.5" fill="#e51e10"/>
<circle cx="533.4" cy="199.3" r="8.5" fill="#e51e10"/>
<circle cx="540.8" cy="196" r="8.5" fill="#e51e10"/>
<circle cx="548.2" cy="195.4" r="8.5" fill="#e51e10"/>
<circle cx="555.6" cy="211" r="8.5" fill="#e51e10"/>
<circle cx="563" cy="211" r="8.5" fill="#e51e10"/>
<circle cx="570.4" cy="192.4" r="8.5" fill="#e51e10"/>
<circle cx="577.8" cy="200.2" r="8.5" fill="#e51e10"/>
<circle cx="585.2" cy="178.1" r="8.5" fill="#e51e10"/>
<circle cx="592.6" cy="211" r="8.5" fill="#e51e10"/>
<circle cx="600" cy="204.2" r="8.5" fill="#e51e10"/>
<circle cx="607.4" cy="204.2" r="8.5" fill="#e51e10"/>
<circle cx="614.8" cy="211" r="8.5" fill="#e51e10"/>
<circle cx="622.2" cy="186.5" r="8.5" fill="#e51e10"/>
<circle cx="629.6" cy="217.9" r="8.5" fill="#e51e10"/>
<circle cx="637" cy="205.8" r="8.5" fill="#e51e10"/>
<circle cx="644.4" cy="215.9" r="8.5" fill="#e51e10"/>
<circle cx="651.8" cy="212.6" r="8.5" fill="#e51e10"/>
<circle cx="659.2" cy="214.3" r="8.5" fill="#e51e10"/>
<circle cx="666.6" cy="207.4" r="8.5" fill="#e51e10"/>
<circle cx="674" cy="222.8" r="8.5" fill="#e51e10"/>
<circle cx="681.4" cy="221.1" r="8.5" fill="#e51e10"/>
<circle cx="688.8" cy="223.7" r="8.5" fill="#e51e10"/>
<circle cx="696.2" cy="226.3" r="8.5" fill="#e51e10"/>
<circle cx="703.6" cy="216.6" r="8.5" fill="#e51e10"/>
<circle cx="711" cy="226.3" r="8.5" fill="#e51e10"/>
<circle cx="718.4" cy="223.1" r="8.5" fill="#e51e10"/>
<circle cx="725.8" cy="206.8" r="8.5" fill="#e51e10"/>
<circle cx="733.2" cy="231.2" r="8.5" fill="#e51e10"/>
<circle cx="740.6" cy="233.8" r="8.5" fill="#e51e10"/>
<circle cx="748" cy="212.6" r="8.5" fill="#e51e10"/>
<circle cx="755.4" cy="221.1" r="8.5" fill="#e51e10"/>
<circle cx="762.8" cy="240.7" r="8.5" fill="#e51e10"/>
<circle cx="770.2" cy="232.2" r="8.5" fill="#e51e10"/>
<circle cx="777.6" cy="232.2" r="8.5" fill="#e51e10"/>
<circle cx="785" cy="221.8" r="8.5" fill="#e51e10"/>
<circle cx="792.4" cy="232.2" r="8.5" fill="#e51e10"/>
<circle cx="799.8" cy="234.5" r="8.5" fill="#e51e10"/>
<circle cx="807.2" cy="229.6" r="8.5" fill="#e51e10"/>
<circle cx="814.6" cy="250.8" r="8.5" fill="#e51e10"/>
<circle cx="822" cy="224.1" r="8.5" fill="#e51e10"/>
<circle cx="829.4" cy="220.8" r="8.5" fill="#e51e10"/>
<circle cx="836.8" cy="231.2" r="8.5" fill="#e51e10"/>
<circle cx="844.2" cy="231.2" r="8.5" fill="#e51e10"/>
<circle cx="851.6" cy="245.9" r="8.5" fill="#e51e10"/>
<circle cx="859" cy="256.7" r="8.5" fill="#e51e10"/>
<polyline points="119,451.4 126.4,451.4 133.8,451.4 141.2,451.4 148.6,451.4 156,451.4 163.4,451.4 170.8,125.2 178.2,125.2 185.6,125.2 193,125.2 200.4,201.2 207.8,234.5 215.2,234.5 222.6,139.9 230,139.9 237.4,218.2 244.8,190.5 252.2,178.1 259.6,163.1 267,135.7 274.4,163.1 281.8,135.7 289.2,144.1 296.6,149 304,200.6 311.4,246.2 318.8,194.4 326.2,190.5 333.6,164.7 341,185.2 348.4,228.6 355.8,212.3 363.2,195 370.6,193.7 378,235.1 385.4,243 392.8,219.2 400.2,220.1 407.6,202.2 415,175.8 422.4,204.2 429.8,201.6 437.2,197.6 444.6,183.9 452,167.6 459.4,163.4 466.8,158.5 474.2,171.5 481.6,160.1 489,165.7 496.4,180.7 503.8,160.8 511.2,162.1 518.6,161.4 526,160.5 533.4,199.3 540.8,196 548.2,195.4 555.6,211 563,211 570.4,192.4 577.8,200.2 585.2,178.1 592.6,211 600,204.2 607.4,204.2 614.8,211 622.2,186.5 629.6,217.9 637,205.8 644.4,215.9 651.8,212.6 659.2,214.3 666.6,207.4 674,222.8 681.4,221.1 688.8,223.7 696.2,226.3 703.6,216.6 711,226.3 718.4,223.1 725.8,206.8 733.2,231.2 740.6,233.8 748,212.6 755.4,221.1 762.8,240.7 770.2,232.2 777.6,232.2 785,221.8 792.4,232.2 799.8,234.5 807.2,229.6 814.6,250.8 822,224.1 829.4,220.8 836.8,231.2 844.2,231.2 851.6,245.9 859,256.7" fill="none" stroke="#000000" stroke-width="2.2" stroke-linejoin="round"/>
<path d="M119 443.6L127.3 456L110.7 456Z" stroke="#000000" stroke-width="2" fill="none" stroke-linejoin="miter"/>
<path d="M126.4 443.6L134.7 456L118.1 456Z" stroke="#000000" stroke-width="2" fill="none" stroke-linejoin="miter"/>
<path d="M133.8 443.6L142.1 456L125.5 456Z" stroke="#000000" stroke-width="2" fill="none" stroke-linejoin="miter"/>
<path d="M141.2 443.6L149.5 456L132.9 456Z" stroke="#000000" stroke-width="2" fill="none" stroke-linejoin="miter"/>
<path d="M148.6 443.6L156.9 456L140.3 456Z" stroke="#000000" stroke-width="2" fill="none" stroke-linejoin="miter"/>
<path d="M156 443.6L164.3 456L147.7 456Z" stroke="#000000" stroke-width="2" fill="none" stroke-linejoin="miter"/>
<path d="M163.4 443.6L171.7 456L155.1 456Z" stroke="#000000" stroke-width="2" fill="none" stroke-linejoin="miter"/>
<path d="M170.8 117.4L179.1 129.8L162.5 129.8Z" stroke="#000000" stroke-width="2" fill="none" stroke-linejoin="miter"/>
<path d="M178.2 117.4L186.5 129.8L169.9 129.8Z" stroke="#000000" stroke-width="2" fill="none" stroke-linejoin="miter"/>
<path d="M185.6 117.4L193.9 129.8L177.3 129.8Z" stroke="#000000" stroke-width="2" fill="none" stroke-linejoin="miter"/>
<path d="M193 117.4L201.3 129.8L184.7 129.8Z" stroke="#000000" stroke-width="2" fill="none" stroke-linejoin="miter"/>
<path d="M200.4 193.4L208.7 205.8L192.1 205.8Z" stroke="#000000" stroke-width="2" fill="none" stroke-linejoin="miter"/>
<path d="M207.8 226.7L216.1 239.1L199.5 239.1Z" stroke="#000000" stroke-width="2" fill="none" stroke-linejoin="miter"/>
<path d="M215.2 226.7L223.5 239.1L206.9 239.1Z" stroke="#000000" stroke-width="2" fill="none" stroke-linejoin="miter"/>
<path d="M222.6 132.1L230.9 144.5L214.3 144.5Z" stroke="#000000" stroke-width="2" fill="none" stroke-linejoin="miter"/>
<path d="M230 132.1L238.3 144.5L221.7 144.5Z" stroke="#000000" stroke-width="2" fill="none" stroke-linejoin="miter"/>
<path d="M237.4 210.4L245.7 222.8L229.1 222.8Z" stroke="#000000" stroke-width="2" fill="none" stroke-linejoin="miter"/>
<path d="M244.8 182.7L253.1 195.1L236.5 195.1Z" stroke="#000000" stroke-width="2" fill="none" stroke-linejoin="miter"/>
<path d="M252.2 170.3L260.5 182.7L243.9 182.7Z" stroke="#000000" stroke-width="2" fill="none" stroke-linejoin="miter"/>
<path d="M259.6 155.3L267.9 167.7L251.3 167.7Z" stroke="#000000" stroke-width="2" fill="none" stroke-linejoin="miter"/>
<path d="M267 127.9L275.3 140.3L258.7 140.3Z" stroke="#000000" stroke-width="2" fill="none" stroke-linejoin="miter"/>
<path d="M274.4 155.3L282.7 167.7L266.1 167.7Z" stroke="#000000" stroke-width="2" fill="none" stroke-linejoin="miter"/>
<path d="M281.8 127.9L290.1 140.3L273.5 140.3Z" stroke="#000000" stroke-width="2" fill="none" stroke-linejoin="miter"/>
<path d="M289.2 136.3L297.5 148.7L280.9 148.7Z" stroke="#000000" stroke-width="2" fill="none" stroke-linejoin="miter"/>
<path d="M296.6 141.2L304.9 153.6L288.3 153.6Z" stroke="#000000" stroke-width="2" fill="none" stroke-linejoin="miter"/>
<path d="M304 192.8L312.3 205.2L295.7 205.2Z" stroke="#000000" stroke-width="2" fill="none" stroke-linejoin="miter"/>
<path d="M311.4 238.4L319.7 250.8L303.1 250.8Z" stroke="#000000" stroke-width="2" fill="none" stroke-linejoin="miter"/>
<path d="M318.8 186.6L327.1 199L310.5 199Z" stroke="#000000" stroke-width="2" fill="none" stroke-linejoin="miter"/>
<path d="M326.2 182.7L334.5 195.1L317.9 195.1Z" stroke="#000000" stroke-width="2" fill="none" stroke-linejoin="miter"/>
<path d="M333.6 156.9L341.9 169.3L325.3 169.3Z" stroke="#000000" stroke-width="2" fill="none" stroke-linejoin="miter"/>
<path d="M341 177.4L349.3 189.8L332.7 189.8Z" stroke="#000000" stroke-width="2" fill="none" stroke-linejoin="miter"/>
<path d="M348.4 220.8L356.7 233.2L340.1 233.2Z" stroke="#000000" stroke-width="2" fill="none" stroke-linejoin="miter"/>
<path d="M355.8 204.5L364.1 216.9L347.5 216.9Z" stroke="#000000" stroke-width="2" fill="none" stroke-linejoin="miter"/>
<path d="M363.2 187.2L371.5 199.6L354.9 199.6Z" stroke="#000000" stroke-width="2" fill="none" stroke-linejoin="miter"/>
<path d="M370.6 185.9L378.9 198.3L362.3 198.3Z" stroke="#000000" stroke-width="2" fill="none" stroke-linejoin="miter"/>
<path d="M378 227.3L386.3 239.7L369.7 239.7Z" stroke="#000000" stroke-width="2" fill="none" stroke-linejoin="miter"/>
<path d="M385.4 235.2L393.7 247.6L377.1 247.6Z" stroke="#000000" stroke-width="2" fill="none" stroke-linejoin="miter"/>
<path d="M392.8 211.4L401.1 223.8L384.5 223.8Z" stroke="#000000" stroke-width="2" fill="none" stroke-linejoin="miter"/>
<path d="M400.2 212.3L408.5 224.7L391.9 224.7Z" stroke="#000000" stroke-width="2" fill="none" stroke-linejoin="miter"/>
<path d="M407.6 194.4L415.9 206.8L399.3 206.8Z" stroke="#000000" stroke-width="2" fill="none" stroke-linejoin="miter"/>
<path d="M415 168L423.3 180.4L406.7 180.4Z" stroke="#000000" stroke-width="2" fill="none" stroke-linejoin="miter"/>
<path d="M422.4 196.4L430.7 208.8L414.1 208.8Z" stroke="#000000" stroke-width="2" fill="none" stroke-linejoin="miter"/>
<path d="M429.8 193.8L438.1 206.2L421.5 206.2Z" stroke="#000000" stroke-width="2" fill="none" stroke-linejoin="miter"/>
<path d="M437.2 189.8L445.5 202.2L428.9 202.2Z" stroke="#000000" stroke-width="2" fill="none" stroke-linejoin="miter"/>
<path d="M444.6 176.1L452.9 188.5L436.3 188.5Z" stroke="#000000" stroke-width="2" fill="none" stroke-linejoin="miter"/>
<path d="M452 159.8L460.3 172.2L443.7 172.2Z" stroke="#000000" stroke-width="2" fill="none" stroke-linejoin="miter"/>
<path d="M459.4 155.6L467.7 168L451.1 168Z" stroke="#000000" stroke-width="2" fill="none" stroke-linejoin="miter"/>
<path d="M466.8 150.7L475.1 163.1L458.5 163.1Z" stroke="#000000" stroke-width="2" fill="none" stroke-linejoin="miter"/>
<path d="M474.2 163.7L482.5 176.1L465.9 176.1Z" stroke="#000000" stroke-width="2" fill="none" stroke-linejoin="miter"/>
<path d="M481.6 152.3L489.9 164.7L473.3 164.7Z" stroke="#000000" stroke-width="2" fill="none" stroke-linejoin="miter"/>
<path d="M489 157.9L497.3 170.3L480.7 170.3Z" stroke="#000000" stroke-width="2" fill="none" stroke-linejoin="miter"/>
<path d="M496.4 172.9L504.7 185.3L488.1 185.3Z" stroke="#000000" stroke-width="2" fill="none" stroke-linejoin="miter"/>
<path d="M503.8 153L512.1 165.4L495.5 165.4Z" stroke="#000000" stroke-width="2" fill="none" stroke-linejoin="miter"/>
<path d="M511.2 154.3L519.5 166.7L502.9 166.7Z" stroke="#000000" stroke-width="2" fill="none" stroke-linejoin="miter"/>
<path d="M518.6 153.6L526.9 166L510.3 166Z" stroke="#000000" stroke-width="2" fill="none" stroke-linejoin="miter"/>
<path d="M526 152.7L534.3 165.1L517.7 165.1Z" stroke="#000000" stroke-width="2" fill="none" stroke-linejoin="miter"/>
<path d="M533.4 191.5L541.7 203.9L525.1 203.9Z" stroke="#000000" stroke-width="2" fill="none" stroke-linejoin="miter"/>
<path d="M540.8 188.2L549.1 200.6L532.5 200.6Z" stroke="#000000" stroke-width="2" fill="none" stroke-linejoin="miter"/>
<path d="M548.2 187.6L556.5 200L539.9 200Z" stroke="#000000" stroke-width="2" fill="none" stroke-linejoin="miter"/>
<path d="M555.6 203.2L563.9 215.6L547.3 215.6Z" stroke="#000000" stroke-width="2" fill="none" stroke-linejoin="miter"/>
<path d="M563 203.2L571.3 215.6L554.7 215.6Z" stroke="#000000" stroke-width="2" fill="none" stroke-linejoin="miter"/>
<path d="M570.4 184.6L578.7 197L562.1 197Z" stroke="#000000" stroke-width="2" fill="none" stroke-linejoin="miter"/>
<path d="M577.8 192.4L586.1 204.8L569.5 204.8Z" stroke="#000000" stroke-width="2" fill="none" stroke-linejoin="miter"/>
<path d="M585.2 170.3L593.5 182.7L576.9 182.7Z" stroke="#000000" stroke-width="2" fill="none" stroke-linejoin="miter"/>
<path d="M592.6 203.2L600.9 215.6L584.3 215.6Z" stroke="#000000" stroke-width="2" fill="none" stroke-linejoin="miter"/>
<path d="M600 196.4L608.3 208.8L591.7 208.8Z" stroke="#000000" stroke-width="2" fill="none" stroke-linejoin="miter"/>
<path d="M607.4 196.4L615.7 208.8L599.1 208.8Z" stroke="#000000" stroke-width="2" fill="none" stroke-linejoin="miter"/>
<path d="M614.8 203.2L623.1 215.6L606.5 215.6Z" stroke="#000000" stroke-width="2" fill="none" stroke-linejoin="miter"/>
<path d="M622.2 178.7L630.5 191.1L613.9 191.1Z" stroke="#000000" stroke-width="2" fill="none" stroke-linejoin="miter"/>
<path d="M629.6 210.1L637.9 222.5L621.3 222.5Z" stroke="#000000" stroke-width="2" fill="none" stroke-linejoin="miter"/>
<path d="M637 198L645.3 210.4L628.7 210.4Z" stroke="#000000" stroke-width="2" fill="none" stroke-linejoin="miter"/>
<path d="M644.4 208.1L652.7 220.5L636.1 220.5Z" stroke="#000000" stroke-width="2" fill="none" stroke-linejoin="miter"/>
<path d="M651.8 204.8L660.1 217.2L643.5 217.2Z" stroke="#000000" stroke-width="2" fill="none" stroke-linejoin="miter"/>
<path d="M659.2 206.5L667.5 218.9L650.9 218.9Z" stroke="#000000" stroke-width="2" fill="none" stroke-linejoin="miter"/>
<path d="M666.6 199.6L674.9 212L658.3 212Z" stroke="#000000" stroke-width="2" fill="none" stroke-linejoin="miter"/>
<path d="M674 215L682.3 227.4L665.7 227.4Z" stroke="#000000" stroke-width="2" fill="none" stroke-linejoin="miter"/>
<path d="M681.4 213.3L689.7 225.7L673.1 225.7Z" stroke="#000000" stroke-width="2" fill="none" stroke-linejoin="miter"/>
<path d="M688.8 215.9L697.1 228.3L680.5 228.3Z" stroke="#000000" stroke-width="2" fill="none" stroke-linejoin="miter"/>
<path d="M696.2 218.5L704.5 230.9L687.9 230.9Z" stroke="#000000" stroke-width="2" fill="none" stroke-linejoin="miter"/>
<path d="M703.6 208.8L711.9 221.2L695.3 221.2Z" stroke="#000000" stroke-width="2" fill="none" stroke-linejoin="miter"/>
<path d="M711 218.5L719.3 230.9L702.7 230.9Z" stroke="#000000" stroke-width="2" fill="none" stroke-linejoin="miter"/>
<path d="M718.4 215.3L726.7 227.7L710.1 227.7Z" stroke="#000000" stroke-width="2" fill="none" stroke-linejoin="miter"/>
<path d="M725.8 199L734.1 211.4L717.5 211.4Z" stroke="#000000" stroke-width="2" fill="none" stroke-linejoin="miter"/>
<path d="M733.2 223.4L741.5 235.8L724.9 235.8Z" stroke="#000000" stroke-width="2" fill="none" stroke-linejoin="miter"/>
<path d="M740.6 226L748.9 238.4L732.3 238.4Z" stroke="#000000" stroke-width="2" fill="none" stroke-linejoin="miter"/>
<path d="M748 204.8L756.3 217.2L739.7 217.2Z" stroke="#000000" stroke-width="2" fill="none" stroke-linejoin="miter"/>
<path d="M755.4 213.3L763.7 225.7L747.1 225.7Z" stroke="#000000" stroke-width="2" fill="none" stroke-linejoin="miter"/>
<path d="M762.8 232.9L771.1 245.3L754.5 245.3Z" stroke="#000000" stroke-width="2" fill="none" stroke-linejoin="miter"/>
<path d="M770.2 224.4L778.5 236.8L761.9 236.8Z" stroke="#000000" stroke-width="2" fill="none" stroke-linejoin="miter"/>
<path d="M777.6 224.4L785.9 236.8L769.3 236.8Z" stroke="#000000" stroke-width="2" fill="none" stroke-linejoin="miter"/>
<path d="M785 214L793.3 226.4L776.7 226.4Z" stroke="#000000" stroke-width="2" fill="none" stroke-linejoin="miter"/>
<path d="M792.4 224.4L800.7 236.8L784.1 236.8Z" stroke="#000000" stroke-width="2" fill="none" stroke-linejoin="miter"/>
<path d="M799.8 226.7L808.1 239.1L791.5 239.1Z" stroke="#000000" stroke-width="2" fill="none" stroke-linejoin="miter"/>
<path d="M807.2 221.8L815.5 234.2L798.9 234.2Z" stroke="#000000" stroke-width="2" fill="none" stroke-linejoin="miter"/>
<path d="M814.6 243L822.9 255.4L806.3 255.4Z" stroke="#000000" stroke-width="2" fill="none" stroke-linejoin="miter"/>
<path d="M822 216.3L830.3 228.7L813.7 228.7Z" stroke="#000000" stroke-width="2" fill="none" stroke-linejoin="miter"/>
<path d="M829.4 213L837.7 225.4L821.1 225.4Z" stroke="#000000" stroke-width="2" fill="none" stroke-linejoin="miter"/>
<path d="M836.8 223.4L845.1 235.8L828.5 235.8Z" stroke="#000000" stroke-width="2" fill="none" stroke-linejoin="miter"/>
<path d="M844.2 223.4L852.5 235.8L835.9 235.8Z" stroke="#000000" stroke-width="2" fill="none" stroke-linejoin="miter"/>
<path d="M851.6 238.1L859.9 250.5L843.3 250.5Z" stroke="#000000" stroke-width="2" fill="none" stroke-linejoin="miter"/>
<path d="M859 248.9L867.3 261.3L850.7 261.3Z" stroke="#000000" stroke-width="2" fill="none" stroke-linejoin="miter"/>
<polyline points="119,451.4 126.4,451.4 133.8,451.4 141.2,451.4 148.6,451.4 156,451.4 163.4,451.4 170.8,125.2 178.2,125.2 185.6,125.2 193,125.2 200.4,201.2 207.8,234.5 215.2,234.5 222.6,139.9 230,139.9 237.4,218.2 244.8,190.5 252.2,178.1 259.6,163.1 267,135.7 274.4,163.1 281.8,135.7 289.2,144.1 296.6,149 304,200.6 311.4,246.2 318.8,194.4 326.2,190.5 333.6,164.7 341,185.2 348.4,228.6 355.8,212.3 363.2,195 370.6,193.7 378,235.1 385.4,243 392.8,219.2 400.2,220.1 407.6,202.2 415,175.8 422.4,204.2 429.8,201.6 437.2,197.6 444.6,183.9 452,167.6 459.4,163.4 466.8,158.5 474.2,171.5 481.6,160.1 489,165.7 496.4,180.7 503.8,160.8 511.2,162.1 518.6,161.4 526,160.5 533.4,199.3 540.8,196 548.2,195.4 555.6,211 563,211 570.4,192.4 577.8,200.2 585.2,178.1 592.6,211 600,204.2 607.4,204.2 614.8,211 622.2,186.5 629.6,217.9 637,205.8 644.4,215.9 651.8,212.6 659.2,214.3 666.6,207.4 674,222.8 681.4,221.1 688.8,223.7 696.2,226.3 703.6,216.6 711,226.3 718.4,223.1 725.8,206.8 733.2,231.2 740.6,233.8 748,212.6 755.4,221.1 762.8,240.7 770.2,232.2 777.6,232.2 785,221.8 792.4,232.2 799.8,234.5 807.2,229.6 814.6,250.8 822,224.1 829.4,220.8 836.8,231.2 844.2,231.2 851.6,245.9 859,256.7" fill="none" stroke="#9400d3" stroke-width="2.2" stroke-linejoin="round"/>
<path d="M119 442.4L129 458.1L109 458.1Z" fill="#9400d3"/>
<path d="M126.4 442.4L136.4 458.1L116.4 458.1Z" fill="#9400d3"/>
<path d="M133.8 442.4L143.8 458.1L123.8 458.1Z" fill="#9400d3"/>
<path d="M141.2 442.4L151.2 458.1L131.2 458.1Z" fill="#9400d3"/>
<path d="M148.6 442.4L158.6 458.1L138.6 458.1Z" fill="#9400d3"/>
<path d="M156 442.4L166 458.1L146 458.1Z" fill="#9400d3"/>
<path d="M163.4 442.4L173.4 458.1L153.4 458.1Z" fill="#9400d3"/>
<path d="M170.8 116.2L180.8 131.9L160.8 131.9Z" fill="#9400d3"/>
<path d="M178.2 116.2L188.2 131.9L168.2 131.9Z" fill="#9400d3"/>
<path d="M185.6 116.2L195.6 131.9L175.6 131.9Z" fill="#9400d3"/>
<path d="M193 116.2L203 131.9L183 131.9Z" fill="#9400d3"/>
<path d="M200.4 192.2L210.4 207.9L190.4 207.9Z" fill="#9400d3"/>
<path d="M207.8 225.5L217.8 241.2L197.8 241.2Z" fill="#9400d3"/>
<path d="M215.2 225.5L225.2 241.2L205.2 241.2Z" fill="#9400d3"/>
<path d="M222.6 130.9L232.6 146.6L212.6 146.6Z" fill="#9400d3"/>
<path d="M230 130.9L240 146.6L220 146.6Z" fill="#9400d3"/>
<path d="M237.4 209.2L247.4 224.9L227.4 224.9Z" fill="#9400d3"/>
<path d="M244.8 181.5L254.8 197.2L234.8 197.2Z" fill="#9400d3"/>
<path d="M252.2 169.1L262.2 184.8L242.2 184.8Z" fill="#9400d3"/>
<path d="M259.6 154.1L269.6 169.8L249.6 169.8Z" fill="#9400d3"/>
<path d="M267 126.7L277 142.4L257 142.4Z" fill="#9400d3"/>
<path d="M274.4 154.1L284.4 169.8L264.4 169.8Z" fill="#9400d3"/>
<path d="M281.8 126.7L291.8 142.4L271.8 142.4Z" fill="#9400d3"/>
<path d="M289.2 135.1L299.2 150.8L279.2 150.8Z" fill="#9400d3"/>
<path d="M296.6 140L306.6 155.7L286.6 155.7Z" fill="#9400d3"/>
<path d="M304 191.6L314 207.3L294 207.3Z" fill="#9400d3"/>
<path d="M311.4 237.2L321.4 252.9L301.4 252.9Z" fill="#9400d3"/>
<path d="M318.8 185.4L328.8 201.1L308.8 201.1Z" fill="#9400d3"/>
<path d="M326.2 181.5L336.2 197.2L316.2 197.2Z" fill="#9400d3"/>
<path d="M333.6 155.7L343.6 171.4L323.6 171.4Z" fill="#9400d3"/>
<path d="M341 176.2L351 191.9L331 191.9Z" fill="#9400d3"/>
<path d="M348.4 219.6L358.4 235.3L338.4 235.3Z" fill="#9400d3"/>
<path d="M355.8 203.3L365.8 219L345.8 219Z" fill="#9400d3"/>
<path d="M363.2 186L373.2 201.7L353.2 201.7Z" fill="#9400d3"/>
<path d="M370.6 184.7L380.6 200.4L360.6 200.4Z" fill="#9400d3"/>
<path d="M378 226.1L388 241.8L368 241.8Z" fill="#9400d3"/>
<path d="M385.4 234L395.4 249.7L375.4 249.7Z" fill="#9400d3"/>
<path d="M392.8 210.2L402.8 225.9L382.8 225.9Z" fill="#9400d3"/>
<path d="M400.2 211.1L410.2 226.8L390.2 226.8Z" fill="#9400d3"/>
<path d="M407.6 193.2L417.6 208.9L397.6 208.9Z" fill="#9400d3"/>
<path d="M415 166.8L425 182.5L405 182.5Z" fill="#9400d3"/>
<path d="M422.4 195.2L432.4 210.9L412.4 210.9Z" fill="#9400d3"/>
<path d="M429.8 192.6L439.8 208.3L419.8 208.3Z" fill="#9400d3"/>
<path d="M437.2 188.6L447.2 204.3L427.2 204.3Z" fill="#9400d3"/>
<path d="M444.6 174.9L454.6 190.6L434.6 190.6Z" fill="#9400d3"/>
<path d="M452 158.6L462 174.3L442 174.3Z" fill="#9400d3"/>
<path d="M459.4 154.4L469.4 170.1L449.4 170.1Z" fill="#9400d3"/>
<path d="M466.8 149.5L476.8 165.2L456.8 165.2Z" fill="#9400d3"/>
<path d="M474.2 162.5L484.2 178.2L464.2 178.2Z" fill="#9400d3"/>
<path d="M481.6 151.1L491.6 166.8L471.6 166.8Z" fill="#9400d3"/>
<path d="M489 156.7L499 172.4L479 172.4Z" fill="#9400d3"/>
<path d="M496.4 171.7L506.4 187.4L486.4 187.4Z" fill="#9400d3"/>
<path d="M503.8 151.8L513.8 167.5L493.8 167.5Z" fill="#9400d3"/>
<path d="M511.2 153.1L521.2 168.8L501.2 168.8Z" fill="#9400d3"/>
<path d="M518.6 152.4L528.6 168.1L508.6 168.1Z" fill="#9400d3"/>
<path d="M526 151.5L536 167.2L516 167.2Z" fill="#9400d3"/>
<path d="M533.4 190.3L543.4 206L523.4 206Z" fill="#9400d3"/>
<path d="M540.8 187L550.8 202.7L530.8 202.7Z" fill="#9400d3"/>
<path d="M548.2 186.4L558.2 202.1L538.2 202.1Z" fill="#9400d3"/>
<path d="M555.6 202L565.6 217.7L545.6 217.7Z" fill="#9400d3"/>
<path d="M563 202L573 217.7L553 217.7Z" fill="#9400d3"/>
<path d="M570.4 183.4L580.4 199.1L560.4 199.1Z" fill="#9400d3"/>
<path d="M577.8 191.2L587.8 206.9L567.8 206.9Z" fill="#9400d3"/>
<path d="M585.2 169.1L595.2 184.8L575.2 184.8Z" fill="#9400d3"/>
<path d="M592.6 202L602.6 217.7L582.6 217.7Z" fill="#9400d3"/>
<path d="M600 195.2L610 210.9L590 210.9Z" fill="#9400d3"/>
<path d="M607.4 195.2L617.4 210.9L597.4 210.9Z" fill="#9400d3"/>
<path d="M614.8 202L624.8 217.7L604.8 217.7Z" fill="#9400d3"/>
<path d="M622.2 177.5L632.2 193.2L612.2 193.2Z" fill="#9400d3"/>
<path d="M629.6 208.9L639.6 224.6L619.6 224.6Z" fill="#9400d3"/>
<path d="M637 196.8L647 212.5L627 212.5Z" fill="#9400d3"/>
<path d="M644.4 206.9L654.4 222.6L634.4 222.6Z" fill="#9400d3"/>
<path d="M651.8 203.6L661.8 219.3L641.8 219.3Z" fill="#9400d3"/>
<path d="M659.2 205.3L669.2 221L649.2 221Z" fill="#9400d3"/>
<path d="M666.6 198.4L676.6 214.1L656.6 214.1Z" fill="#9400d3"/>
<path d="M674 213.8L684 229.5L664 229.5Z" fill="#9400d3"/>
<path d="M681.4 212.1L691.4 227.8L671.4 227.8Z" fill="#9400d3"/>
<path d="M688.8 214.7L698.8 230.4L678.8 230.4Z" fill="#9400d3"/>
<path d="M696.2 217.3L706.2 233L686.2 233Z" fill="#9400d3"/>
<path d="M703.6 207.6L713.6 223.3L693.6 223.3Z" fill="#9400d3"/>
<path d="M711 217.3L721 233L701 233Z" fill="#9400d3"/>
<path d="M718.4 214.1L728.4 229.8L708.4 229.8Z" fill="#9400d3"/>
<path d="M725.8 197.8L735.8 213.5L715.8 213.5Z" fill="#9400d3"/>
<path d="M733.2 222.2L743.2 237.9L723.2 237.9Z" fill="#9400d3"/>
<path d="M740.6 224.8L750.6 240.5L730.6 240.5Z" fill="#9400d3"/>
<path d="M748 203.6L758 219.3L738 219.3Z" fill="#9400d3"/>
<path d="M755.4 212.1L765.4 227.8L745.4 227.8Z" fill="#9400d3"/>
<path d="M762.8 231.7L772.8 247.4L752.8 247.4Z" fill="#9400d3"/>
<path d="M770.2 223.2L780.2 238.9L760.2 238.9Z" fill="#9400d3"/>
<path d="M777.6 223.2L787.6 238.9L767.6 238.9Z" fill="#9400d3"/>
<path d="M785 212.8L795 228.5L775 228.5Z" fill="#9400d3"/>
<path d="M792.4 223.2L802.4 238.9L782.4 238.9Z" fill="#9400d3"/>
<path d="M799.8 225.5L809.8 241.2L789.8 241.2Z" fill="#9400d3"/>
<path d="M807.2 220.6L817.2 236.3L797.2 236.3Z" fill="#9400d3"/>
<path d="M814.6 241.8L824.6 257.5L804.6 257.5Z" fill="#9400d3"/>
<path d="M822 215.1L832 230.8L812 230.8Z" fill="#9400d3"/>
<path d="M829.4 211.8L839.4 227.5L819.4 227.5Z" fill="#9400d3"/>
<path d="M836.8 222.2L846.8 237.9L826.8 237.9Z" fill="#9400d3"/>
<path d="M844.2 222.2L854.2 237.9L834.2 237.9Z" fill="#9400d3"/>
<path d="M851.6 236.9L861.6 252.6L841.6 252.6Z" fill="#9400d3"/>
<path d="M859 247.7L869 263.4L849 263.4Z" fill="#9400d3"/>
<polyline points="119,451.4 126.4,451.4 133.8,451.4 141.2,451.4 148.6,451.4 156,451.4 163.4,451.4 170.8,125.2 178.2,125.2 185.6,125.2 193,125.2 200.4,201.2 207.8,234.5 215.2,234.5 222.6,139.9 230,139.9 237.4,218.2 244.8,190.5 252.2,178.1 259.6,163.1 267,135.7 274.4,163.1 281.8,135.7 289.2,144.1 296.6,149 304,200.6 311.4,246.2 318.8,194.4 326.2,190.5 333.6,164.7 341,185.2 348.4,228.6 355.8,212.3 363.2,195 370.6,193.7 378,235.1 385.4,243 392.8,219.2 400.2,220.1 407.6,202.2 415,175.8 422.4,204.2 429.8,201.6 437.2,197.6 444.6,183.9 452,167.6 459.4,163.4 466.8,158.5 474.2,171.5 481.6,160.1 489,165.7 496.4,180.7 503.8,160.8 511.2,162.1 518.6,161.4 526,160.5 533.4,199.3 540.8,196 548.2,195.4 555.6,211 563,211 570.4,192.4 577.8,200.2 585.2,178.1 592.6,211 600,204.2 607.4,204.2 614.8,211 622.2,186.5 629.6,217.9 637,205.8 644.4,215.9 651.8,212.6 659.2,214.3 666.6,207.4 674,222.8 681.4,221.1 688.8,223.7 696.2,226.3 703.6,216.6 711,226.3 718.4,223.1 725.8,206.8 733.2,231.2 740.6,233.8 748,212.6 755.4,221.1 762.8,240.7 770.2,232.2 777.6,232.2 785,221.8 792.4,232.2 799.8,234.5 807.2,229.6 814.6,250.8 822,224.1 829.4,220.8 836.8,231.2 844.2,231.2 851.6,245.9 859,256.7" fill="none" stroke="#009e73" stroke-width="2.2" stroke-linejoin="round"/>
<path d="M119 459.2L127.3 446.8L110.7 446.8Z" stroke="#009e73" stroke-width="2" fill="none" stroke-linejoin="miter"/>
<path d="M126.4 459.2L134.7 446.8L118.1 446.8Z" stroke="#009e73" stroke-width="2" fill="none" stroke-linejoin="miter"/>
<path d="M133.8 459.2L142.1 446.8L125.5 446.8Z" stroke="#009e73" stroke-width="2" fill="none" stroke-linejoin="miter"/>
<path d="M141.2 459.2L149.5 446.8L132.9 446.8Z" stroke="#009e73" stroke-width="2" fill="none" stroke-linejoin="miter"/>
<path d="M148.6 459.2L156.9 446.8L140.3 446.8Z" stroke="#009e73" stroke-width="2" fill="none" stroke-linejoin="miter"/>
<path d="M156 459.2L164.3 446.8L147.7 446.8Z" stroke="#009e73" stroke-width="2" fill="none" stroke-linejoin="miter"/>
<path d="M163.4 459.2L171.7 446.8L155.1 446.8Z" stroke="#009e73" stroke-width="2" fill="none" stroke-linejoin="miter"/>
<path d="M170.8 133L179.1 120.6L162.5 120.6Z" stroke="#009e73" stroke-width="2" fill="none" stroke-linejoin="miter"/>
<path d="M178.2 133L186.5 120.6L169.9 120.6Z" stroke="#009e73" stroke-width="2" fill="none" stroke-linejoin="miter"/>
<path d="M185.6 133L193.9 120.6L177.3 120.6Z" stroke="#009e73" stroke-width="2" fill="none" stroke-linejoin="miter"/>
<path d="M193 133L201.3 120.6L184.7 120.6Z" stroke="#009e73" stroke-width="2" fill="none" stroke-linejoin="miter"/>
<path d="M200.4 209L208.7 196.6L192.1 196.6Z" stroke="#009e73" stroke-width="2" fill="none" stroke-linejoin="miter"/>
<path d="M207.8 242.3L216.1 229.9L199.5 229.9Z" stroke="#009e73" stroke-width="2" fill="none" stroke-linejoin="miter"/>
<path d="M215.2 242.3L223.5 229.9L206.9 229.9Z" stroke="#009e73" stroke-width="2" fill="none" stroke-linejoin="miter"/>
<path d="M222.6 147.7L230.9 135.3L214.3 135.3Z" stroke="#009e73" stroke-width="2" fill="none" stroke-linejoin="miter"/>
<path d="M230 147.7L238.3 135.3L221.7 135.3Z" stroke="#009e73" stroke-width="2" fill="none" stroke-linejoin="miter"/>
<path d="M237.4 226L245.7 213.6L229.1 213.6Z" stroke="#009e73" stroke-width="2" fill="none" stroke-linejoin="miter"/>
<path d="M244.8 198.3L253.1 185.9L236.5 185.9Z" stroke="#009e73" stroke-width="2" fill="none" stroke-linejoin="miter"/>
<path d="M252.2 185.9L260.5 173.5L243.9 173.5Z" stroke="#009e73" stroke-width="2" fill="none" stroke-linejoin="miter"/>
<path d="M259.6 170.9L267.9 158.5L251.3 158.5Z" stroke="#009e73" stroke-width="2" fill="none" stroke-linejoin="miter"/>
<path d="M267 143.5L275.3 131.1L258.7 131.1Z" stroke="#009e73" stroke-width="2" fill="none" stroke-linejoin="miter"/>
<path d="M274.4 170.9L282.7 158.5L266.1 158.5Z" stroke="#009e73" stroke-width="2" fill="none" stroke-linejoin="miter"/>
<path d="M281.8 143.5L290.1 131.1L273.5 131.1Z" stroke="#009e73" stroke-width="2" fill="none" stroke-linejoin="miter"/>
<path d="M289.2 151.9L297.5 139.5L280.9 139.5Z" stroke="#009e73" stroke-width="2" fill="none" stroke-linejoin="miter"/>
<path d="M296.6 156.8L304.9 144.4L288.3 144.4Z" stroke="#009e73" stroke-width="2" fill="none" stroke-linejoin="miter"/>
<path d="M304 208.4L312.3 196L295.7 196Z" stroke="#009e73" stroke-width="2" fill="none" stroke-linejoin="miter"/>
<path d="M311.4 254L319.7 241.6L303.1 241.6Z" stroke="#009e73" stroke-width="2" fill="none" stroke-linejoin="miter"/>
<path d="M318.8 202.2L327.1 189.8L310.5 189.8Z" stroke="#009e73" stroke-width="2" fill="none" stroke-linejoin="miter"/>
<path d="M326.2 198.3L334.5 185.9L317.9 185.9Z" stroke="#009e73" stroke-width="2" fill="none" stroke-linejoin="miter"/>
<path d="M333.6 172.5L341.9 160.1L325.3 160.1Z" stroke="#009e73" stroke-width="2" fill="none" stroke-linejoin="miter"/>
<path d="M341 193L349.3 180.6L332.7 180.6Z" stroke="#009e73" stroke-width="2" fill="none" stroke-linejoin="miter"/>
<path d="M348.4 236.4L356.7 224L340.1 224Z" stroke="#009e73" stroke-width="2" fill="none" stroke-linejoin="miter"/>
<path d="M355.8 220.1L364.1 207.7L347.5 207.7Z" stroke="#009e73" stroke-width="2" fill="none" stroke-linejoin="miter"/>
<path d="M363.2 202.8L371.5 190.4L354.9 190.4Z" stroke="#009e73" stroke-width="2" fill="none" stroke-linejoin="miter"/>
<path d="M370.6 201.5L378.9 189.1L362.3 189.1Z" stroke="#009e73" stroke-width="2" fill="none" stroke-linejoin="miter"/>
<path d="M378 242.9L386.3 230.5L369.7 230.5Z" stroke="#009e73" stroke-width="2" fill="none" stroke-linejoin="miter"/>
<path d="M385.4 250.8L393.7 238.4L377.1 238.4Z" stroke="#009e73" stroke-width="2" fill="none" stroke-linejoin="miter"/>
<path d="M392.8 227L401.1 214.6L384.5 214.6Z" stroke="#009e73" stroke-width="2" fill="none" stroke-linejoin="miter"/>
<path d="M400.2 227.9L408.5 215.5L391.9 215.5Z" stroke="#009e73" stroke-width="2" fill="none" stroke-linejoin="miter"/>
<path d="M407.6 210L415.9 197.6L399.3 197.6Z" stroke="#009e73" stroke-width="2" fill="none" stroke-linejoin="miter"/>
<path d="M415 183.6L423.3 171.2L406.7 171.2Z" stroke="#009e73" stroke-width="2" fill="none" stroke-linejoin="miter"/>
<path d="M422.4 212L430.7 199.6L414.1 199.6Z" stroke="#009e73" stroke-width="2" fill="none" stroke-linejoin="miter"/>
<path d="M429.8 209.4L438.1 197L421.5 197Z" stroke="#009e73" stroke-width="2" fill="none" stroke-linejoin="miter"/>
<path d="M437.2 205.4L445.5 193L428.9 193Z" stroke="#009e73" stroke-width="2" fill="none" stroke-linejoin="miter"/>
<path d="M444.6 191.7L452.9 179.3L436.3 179.3Z" stroke="#009e73" stroke-width="2" fill="none" stroke-linejoin="miter"/>
<path d="M452 175.4L460.3 163L443.7 163Z" stroke="#009e73" stroke-width="2" fill="none" stroke-linejoin="miter"/>
<path d="M459.4 171.2L467.7 158.8L451.1 158.8Z" stroke="#009e73" stroke-width="2" fill="none" stroke-linejoin="miter"/>
<path d="M466.8 166.3L475.1 153.9L458.5 153.9Z" stroke="#009e73" stroke-width="2" fill="none" stroke-linejoin="miter"/>
<path d="M474.2 179.3L482.5 166.9L465.9 166.9Z" stroke="#009e73" stroke-width="2" fill="none" stroke-linejoin="miter"/>
<path d="M481.6 167.9L489.9 155.5L473.3 155.5Z" stroke="#009e73" stroke-width="2" fill="none" stroke-linejoin="miter"/>
<path d="M489 173.5L497.3 161.1L480.7 161.1Z" stroke="#009e73" stroke-width="2" fill="none" stroke-linejoin="miter"/>
<path d="M496.4 188.5L504.7 176.1L488.1 176.1Z" stroke="#009e73" stroke-width="2" fill="none" stroke-linejoin="miter"/>
<path d="M503.8 168.6L512.1 156.2L495.5 156.2Z" stroke="#009e73" stroke-width="2" fill="none" stroke-linejoin="miter"/>
<path d="M511.2 169.9L519.5 157.5L502.9 157.5Z" stroke="#009e73" stroke-width="2" fill="none" stroke-linejoin="miter"/>
<path d="M518.6 169.2L526.9 156.8L510.3 156.8Z" stroke="#009e73" stroke-width="2" fill="none" stroke-linejoin="miter"/>
<path d="M526 168.3L534.3 155.9L517.7 155.9Z" stroke="#009e73" stroke-width="2" fill="none" stroke-linejoin="miter"/>
<path d="M533.4 207.1L541.7 194.7L525.1 194.7Z" stroke="#009e73" stroke-width="2" fill="none" stroke-linejoin="miter"/>
<path d="M540.8 203.8L549.1 191.4L532.5 191.4Z" stroke="#009e73" stroke-width="2" fill="none" stroke-linejoin="miter"/>
<path d="M548.2 203.2L556.5 190.8L539.9 190.8Z" stroke="#009e73" stroke-width="2" fill="none" stroke-linejoin="miter"/>
<path d="M555.6 218.8L563.9 206.4L547.3 206.4Z" stroke="#009e73" stroke-width="2" fill="none" stroke-linejoin="miter"/>
<path d="M563 218.8L571.3 206.4L554.7 206.4Z" stroke="#009e73" stroke-width="2" fill="none" stroke-linejoin="miter"/>
<path d="M570.4 200.2L578.7 187.8L562.1 187.8Z" stroke="#009e73" stroke-width="2" fill="none" stroke-linejoin="miter"/>
<path d="M577.8 208L586.1 195.6L569.5 195.6Z" stroke="#009e73" stroke-width="2" fill="none" stroke-linejoin="miter"/>
<path d="M585.2 185.9L593.5 173.5L576.9 173.5Z" stroke="#009e73" stroke-width="2" fill="none" stroke-linejoin="miter"/>
<path d="M592.6 218.8L600.9 206.4L584.3 206.4Z" stroke="#009e73" stroke-width="2" fill="none" stroke-linejoin="miter"/>
<path d="M600 212L608.3 199.6L591.7 199.6Z" stroke="#009e73" stroke-width="2" fill="none" stroke-linejoin="miter"/>
<path d="M607.4 212L615.7 199.6L599.1 199.6Z" stroke="#009e73" stroke-width="2" fill="none" stroke-linejoin="miter"/>
<path d="M614.8 218.8L623.1 206.4L606.5 206.4Z" stroke="#009e73" stroke-width="2" fill="none" stroke-linejoin="miter"/>
<path d="M622.2 194.3L630.5 181.9L613.9 181.9Z" stroke="#009e73" stroke-width="2" fill="none" stroke-linejoin="miter"/>
<path d="M629.6 225.7L637.9 213.3L621.3 213.3Z" stroke="#009e73" stroke-width="2" fill="none" stroke-linejoin="miter"/>
<path d="M637 213.6L645.3 201.2L628.7 201.2Z" stroke="#009e73" stroke-width="2" fill="none" stroke-linejoin="miter"/>
<path d="M644.4 223.7L652.7 211.3L636.1 211.3Z" stroke="#009e73" stroke-width="2" fill="none" stroke-linejoin="miter"/>
<path d="M651.8 220.4L660.1 208L643.5 208Z" stroke="#009e73" stroke-width="2" fill="none" stroke-linejoin="miter"/>
<path d="M659.2 222.1L667.5 209.7L650.9 209.7Z" stroke="#009e73" stroke-width="2" fill="none" stroke-linejoin="miter"/>
<path d="M666.6 215.2L674.9 202.8L658.3 202.8Z" stroke="#009e73" stroke-width="2" fill="none" stroke-linejoin="miter"/>
<path d="M674 230.6L682.3 218.2L665.7 218.2Z" stroke="#009e73" stroke-width="2" fill="none" stroke-linejoin="miter"/>
<path d="M681.4 228.9L689.7 216.5L673.1 216.5Z" stroke="#009e73" stroke-width="2" fill="none" stroke-linejoin="miter"/>
<path d="M688.8 231.5L697.1 219.1L680.5 219.1Z" stroke="#009e73" stroke-width="2" fill="none" stroke-linejoin="miter"/>
<path d="M696.2 234.1L704.5 221.7L687.9 221.7Z" stroke="#009e73" stroke-width="2" fill="none" stroke-linejoin="miter"/>
<path d="M703.6 224.4L711.9 212L695.3 212Z" stroke="#009e73" stroke-width="2" fill="none" stroke-linejoin="miter"/>
<path d="M711 234.1L719.3 221.7L702.7 221.7Z" stroke="#009e73" stroke-width="2" fill="none" stroke-linejoin="miter"/>
<path d="M718.4 230.9L726.7 218.5L710.1 218.5Z" stroke="#009e73" stroke-width="2" fill="none" stroke-linejoin="miter"/>
<path d="M725.8 214.6L734.1 202.2L717.5 202.2Z" stroke="#009e73" stroke-width="2" fill="none" stroke-linejoin="miter"/>
<path d="M733.2 239L741.5 226.6L724.9 226.6Z" stroke="#009e73" stroke-width="2" fill="none" stroke-linejoin="miter"/>
<path d="M740.6 241.6L748.9 229.2L732.3 229.2Z" stroke="#009e73" stroke-width="2" fill="none" stroke-linejoin="miter"/>
<path d="M748 220.4L756.3 208L739.7 208Z" stroke="#009e73" stroke-width="2" fill="none" stroke-linejoin="miter"/>
<path d="M755.4 228.9L763.7 216.5L747.1 216.5Z" stroke="#009e73" stroke-width="2" fill="none" stroke-linejoin="miter"/>
<path d="M762.8 248.5L771.1 236.1L754.5 236.1Z" stroke="#009e73" stroke-width="2" fill="none" stroke-linejoin="miter"/>
<path d="M770.2 240L778.5 227.6L761.9 227.6Z" stroke="#009e73" stroke-width="2" fill="none" stroke-linejoin="miter"/>
<path d="M777.6 240L785.9 227.6L769.3 227.6Z" stroke="#009e73" stroke-width="2" fill="none" stroke-linejoin="miter"/>
<path d="M785 229.6L793.3 217.2L776.7 217.2Z" stroke="#009e73" stroke-width="2" fill="none" stroke-linejoin="miter"/>
<path d="M792.4 240L800.7 227.6L784.1 227.6Z" stroke="#009e73" stroke-width="2" fill="none" stroke-linejoin="miter"/>
<path d="M799.8 242.3L808.1 229.9L791.5 229.9Z" stroke="#009e73" stroke-width="2" fill="none" stroke-linejoin="miter"/>
<path d="M807.2 237.4L815.5 225L798.9 225Z" stroke="#009e73" stroke-width="2" fill="none" stroke-linejoin="miter"/>
<path d="M814.6 258.6L822.9 246.2L806.3 246.2Z" stroke="#009e73" stroke-width="2" fill="none" stroke-linejoin="miter"/>
<path d="M822 231.9L830.3 219.5L813.7 219.5Z" stroke="#009e73" stroke-width="2" fill="none" stroke-linejoin="miter"/>
<path d="M829.4 228.6L837.7 216.2L821.1 216.2Z" stroke="#009e73" stroke-width="2" fill="none" stroke-linejoin="miter"/>
<path d="M836.8 239L845.1 226.6L828.5 226.6Z" stroke="#009e73" stroke-width="2" fill="none" stroke-linejoin="miter"/>
<path d="M844.2 239L852.5 226.6L835.9 226.6Z" stroke="#009e73" stroke-width="2" fill="none" stroke-linejoin="miter"/>
<path d="M851.6 253.7L859.9 241.3L843.3 241.3Z" stroke="#009e73" stroke-width="2" fill="none" stroke-linejoin="miter"/>
<path d="M859 264.5L867.3 252.1L850.7 252.1Z" stroke="#009e73" stroke-width="2" fill="none" stroke-linejoin="miter"/>
<path d="M119 451.4v-9M119 60v9M267 451.4v-9M267 60v9M415 451.4v-9M415 60v9M563 451.4v-9M563 60v9M711 451.4v-9M711 60v9M859 451.4v-9M859 60v9M119 451.4h9M866 451.4h-9M119 386.2h9M866 386.2h-9M119 320.9h9M866 320.9h-9M119 255.7h9M866 255.7h-9M119 190.5h9M866 190.5h-9M119 125.2h9M866 125.2h-9M119 60h9M866 60h-9" stroke="#000" stroke-width="1.5" fill="none"/>
<path d="M118 60H867.2M119 59V452.1" stroke="#000" stroke-width="2" fill="none"/>
<path d="M866.5 59V452.1M118 451.45H867.2" stroke="#000" stroke-width="1.4" fill="none"/>
<text transform="translate(116.44 482.00) scale(0.9724 1)" font-size="21.3">0</text>
<text transform="translate(257.91 482.00) scale(1.0280 1)" font-size="21.3">20</text>
<text transform="translate(406.09 482.00) scale(1.0373 1)" font-size="21.3">40</text>
<text transform="translate(553.88 482.00) scale(1.0290 1)" font-size="21.3">60</text>
<text transform="translate(701.96 482.00) scale(1.0301 1)" font-size="21.3">80</text>
<text transform="translate(843.26 482.00) scale(1.0430 1)" font-size="21.3">100</text>
<text transform="translate(94.32 458.80) scale(0.9331 1)" font-size="21.3">0</text>
<text transform="translate(75.04 393.57) scale(1.0357 1)" font-size="21.3">0.2</text>
<text transform="translate(75.05 328.33) scale(1.0192 1)" font-size="21.3">0.4</text>
<text transform="translate(75.04 263.10) scale(1.0309 1)" font-size="21.3">0.6</text>
<text transform="translate(75.04 197.86) scale(1.0301 1)" font-size="21.3">0.8</text>
<text transform="translate(94.48 132.63) scale(0.9368 1)" font-size="21.3">1</text>
<text transform="translate(75.23 67.40) scale(1.0289 1)" font-size="21.3">1.2</text>
<text transform="translate(337.68 33.10) scale(0.9823 1)" font-size="21.3">Packet</text>
<text transform="translate(408.56 33.10) scale(1.0530 1)" font-size="21.3">delivery</text>
<text transform="translate(494.38 33.10) scale(1.0836 1)" font-size="21.3">ratio</text>
<text transform="translate(546.18 33.10) scale(1.0281 1)" font-size="21.3">over</text>
<text transform="translate(596.01 33.10) scale(0.9115 1)" font-size="21.3">RSUs</text>
<text transform="translate(415.91 517.40) scale(1.0369 1)" font-size="21.3">Time</text>
<text transform="translate(471.06 517.40) scale(1.0112 1)" font-size="21.3">(Seconds)</text>
<text transform="translate(39.80 295.67) rotate(-90) scale(0.8978 1)" font-size="21.3">PDR</text>
<text transform="translate(39.80 247.86) rotate(-90) scale(0.9514 1)" font-size="21.3">(%)</text>
<rect x="743.9" y="289" width="109.8" height="153.4" stroke="#000" stroke-width="2" fill="#fff"/>
<text transform="translate(753.93 301.50) scale(1.0714 1)" font-size="12.2">RSU-1</text>
<path d="M802.4 296.3H845.4" stroke="#9400d3" stroke-width="2.2"/>
<path d="M816.8 296.3h14.4M824 289.1v14.4" stroke="#9400d3" stroke-width="2" fill="none"/>
<text transform="translate(753.93 316.86) scale(1.0717 1)" font-size="12.2">RSU-2</text>
<path d="M802.4 311.7H845.4" stroke="#009e73" stroke-width="2.2"/>
<path d="M817 304.7l14 14M831 304.7l-14 14" stroke="#009e73" stroke-width="2" fill="none"/>
<text transform="translate(753.93 332.22) scale(1.0695 1)" font-size="12.2">RSU-3</text>
<path d="M802.4 327H845.4" stroke="#56b4e9" stroke-width="2.2"/>
<path d="M816.8 327h14.4M824 319.8v14.4M817 320l14 14M831 320l-14 14" stroke="#56b4e9" stroke-width="2" fill="none"/>
<text transform="translate(753.94 347.58) scale(1.0640 1)" font-size="12.2">RSU-4</text>
<path d="M802.4 342.4H845.4" stroke="#e69f00" stroke-width="2.2"/>
<rect x="816.3" y="334.7" width="15.4" height="15.4" stroke="#e69f00" stroke-width="2" fill="none"/>
<text transform="translate(753.93 362.94) scale(1.0688 1)" font-size="12.2">RSU-5</text>
<path d="M802.4 357.7H845.4" stroke="#f0e442" stroke-width="2.2"/>
<rect x="815.5" y="349.2" width="17" height="17" fill="#f0e442"/>
<text transform="translate(753.93 378.30) scale(1.0695 1)" font-size="12.2">RSU-6</text>
<path d="M802.4 373.1H845.4" stroke="#0072b2" stroke-width="2.2"/>
<circle cx="824" cy="373.1" r="7.5" stroke="#0072b2" stroke-width="2" fill="none"/>
<text transform="translate(753.93 393.66) scale(1.0717 1)" font-size="12.2">RSU-7</text>
<path d="M802.4 388.5H845.4" stroke="#e51e10" stroke-width="2.2"/>
<circle cx="824" cy="388.5" r="8.5" fill="#e51e10"/>
<text transform="translate(753.93 409.02) scale(1.0691 1)" font-size="12.2">RSU-8</text>
<path d="M802.4 403.8H845.4" stroke="#000000" stroke-width="2.2"/>
<path d="M824 396L832.3 408.4L815.7 408.4Z" stroke="#000000" stroke-width="2" fill="none" stroke-linejoin="miter"/>
<text transform="translate(753.93 424.38) scale(1.0706 1)" font-size="12.2">RSU-9</text>
<path d="M802.4 419.2H845.4" stroke="#9400d3" stroke-width="2.2"/>
<path d="M824 410.2L834 425.9L814 425.9Z" fill="#9400d3"/>
<text transform="translate(745.40 439.74) scale(1.0973 1)" font-size="12.2">RSU-10</text>
<path d="M802.4 434.5H845.4" stroke="#009e73" stroke-width="2.2"/>
<path d="M824 442.3L832.3 429.9L815.7 429.9Z" stroke="#009e73" stroke-width="2" fill="none" stroke-linejoin="miter"/>
</svg>
</body></html>
